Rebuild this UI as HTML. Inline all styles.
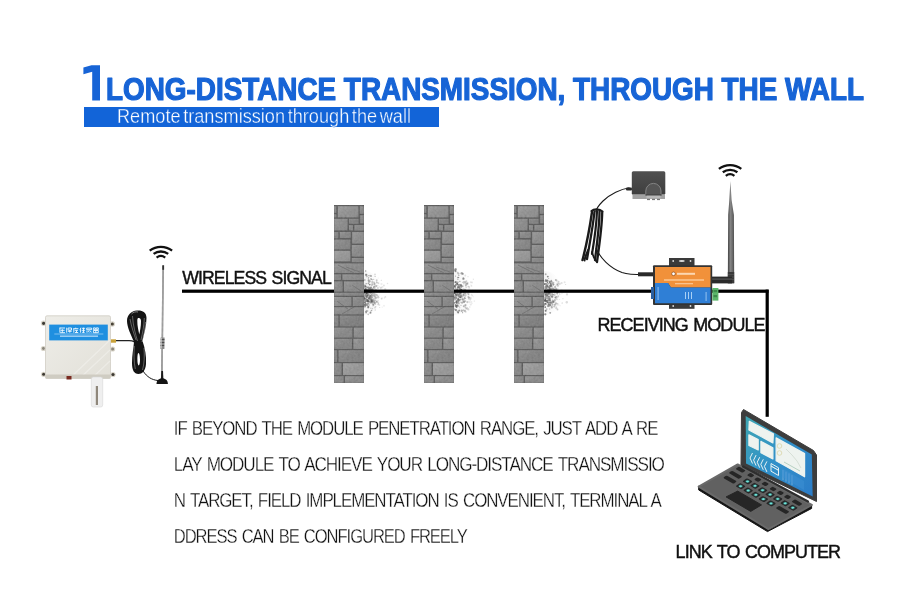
<!DOCTYPE html>
<html><head><meta charset="utf-8">
<style>
html,body{margin:0;padding:0;background:#fff;}
body{width:900px;height:616px;overflow:hidden;position:relative;}
svg{position:absolute;left:0;top:0;display:block;will-change:transform;}
text{font-family:"Liberation Sans",sans-serif;}
</style></head><body>
<svg width="900" height="616" viewBox="0 0 900 616">
<defs>
  <linearGradient id="scrg" x1="0" y1="0" x2="1" y2="1">
    <stop offset="0" stop-color="#3fa7b3"/>
    <stop offset="0.5" stop-color="#3190c9"/>
    <stop offset="1" stop-color="#2b7cc8"/>
  </linearGradient>
  <linearGradient id="boxg" x1="0" y1="0" x2="1" y2="1">
    <stop offset="0" stop-color="#eeede8"/>
    <stop offset="1" stop-color="#e2e0d8"/>
  </linearGradient>
  <linearGradient id="adg" x1="0" y1="0" x2="0" y2="1">
    <stop offset="0" stop-color="#505050"/>
    <stop offset="1" stop-color="#3e3e3e"/>
  </linearGradient>
  <linearGradient id="antg" x1="0" y1="0" x2="1" y2="0">
    <stop offset="0" stop-color="#3e3e3e"/>
    <stop offset="0.4" stop-color="#858585"/>
    <stop offset="0.7" stop-color="#6e6e6e"/>
    <stop offset="1" stop-color="#4a4a4a"/>
  </linearGradient>
  <radialGradient id="dustg" cx="0" cy="0.5" r="1">
    <stop offset="0" stop-color="#999" stop-opacity="0.45"/>
    <stop offset="0.5" stop-color="#aaa" stop-opacity="0.18"/>
    <stop offset="1" stop-color="#ccc" stop-opacity="0"/>
  </radialGradient>
  <filter id="noise" x="0" y="0" width="1" height="1">
    <feTurbulence type="fractalNoise" baseFrequency="0.45" numOctaves="3" seed="5"/>
    <feColorMatrix type="matrix" values="0.33 0.33 0.33 0 0  0.33 0.33 0.33 0 0  0.33 0.33 0.33 0 0  0 0 0 0 1"/>
  </filter>
  <filter id="dblur" x="-20%" y="-20%" width="140%" height="140%">
    <feGaussianBlur stdDeviation="0.45"/>
  </filter>
  <filter id="soft" x="-5%" y="-2%" width="110%" height="104%">
    <feGaussianBlur stdDeviation="0.35"/>
  </filter>
  <linearGradient id="sg" x1="0" y1="0" x2="1" y2="1">
    <stop offset="0" stop-color="#fff" stop-opacity="0.14"/>
    <stop offset="0.6" stop-color="#fff" stop-opacity="0"/>
    <stop offset="1" stop-color="#000" stop-opacity="0.14"/>
  </linearGradient>
  <g id="wall">
<rect x="0" y="0" width="30" height="178" fill="#464646"/>
<rect x="0.2" y="1.2" width="2.2" height="6.6" fill="#7c7c7c"/>
<rect x="0.2" y="1.2" width="2.2" height="6.6" fill="url(#sg)"/>
<rect x="0.2" y="9.2" width="2.2" height="3.2" fill="#777777"/>
<rect x="0.2" y="9.2" width="2.2" height="3.2" fill="url(#sg)"/>
<rect x="15.0" y="20.2" width="4.0" height="5.199999999999999" fill="#7a7a7a"/>
<rect x="15.0" y="20.2" width="4.0" height="5.199999999999999" fill="url(#sg)"/>
<rect x="3.8000000000000003" y="1.2" width="20.6" height="11.2" fill="#858585"/>
<rect x="3.8000000000000003" y="1.2" width="20.6" height="11.2" fill="url(#sg)"/>
<rect x="25.8" y="1.2" width="4.0" height="7.6" fill="#797979"/>
<rect x="25.8" y="1.2" width="4.0" height="7.6" fill="url(#sg)"/>
<rect x="26.2" y="10.2" width="3.6" height="8.2" fill="#767676"/>
<rect x="26.2" y="10.2" width="3.6" height="8.2" fill="url(#sg)"/>
<rect x="15.0" y="13.799999999999999" width="9.6" height="5.0" fill="#737373"/>
<rect x="15.0" y="13.799999999999999" width="9.6" height="5.0" fill="url(#sg)"/>
<rect x="0.2" y="13.799999999999999" width="13.4" height="11.6" fill="#7d7d7d"/>
<rect x="0.2" y="13.799999999999999" width="13.4" height="11.6" fill="url(#sg)"/>
<rect x="20.4" y="20.0" width="9.4" height="5.6" fill="#777777"/>
<rect x="20.4" y="20.0" width="9.4" height="5.6" fill="url(#sg)"/>
<rect x="0.2" y="27.0" width="4.199999999999999" height="6.3999999999999995" fill="#747474"/>
<rect x="0.2" y="27.0" width="4.199999999999999" height="6.3999999999999995" fill="url(#sg)"/>
<rect x="5.8" y="27.0" width="11.0" height="6.0" fill="#797979"/>
<rect x="5.8" y="27.0" width="11.0" height="6.0" fill="url(#sg)"/>
<rect x="18.2" y="27.0" width="11.6" height="11.6" fill="#808080"/>
<rect x="18.2" y="27.0" width="11.6" height="11.6" fill="url(#sg)"/>
<rect x="0.2" y="34.6" width="16.200000000000003" height="9.799999999999999" fill="#777777"/>
<rect x="0.2" y="34.6" width="16.200000000000003" height="9.799999999999999" fill="url(#sg)"/>
<rect x="17.8" y="40.0" width="12.0" height="11.6" fill="#7b7b7b"/>
<rect x="17.8" y="40.0" width="12.0" height="11.6" fill="url(#sg)"/>
<rect x="0.2" y="45.800000000000004" width="16.200000000000003" height="10.6" fill="#8b8b8b"/>
<rect x="0.2" y="45.800000000000004" width="16.200000000000003" height="10.6" fill="url(#sg)"/>
<rect x="17.8" y="53.0" width="12.0" height="4.199999999999999" fill="#767676"/>
<rect x="17.8" y="53.0" width="12.0" height="4.199999999999999" fill="url(#sg)"/>
<rect x="0.2" y="58.400000000000006" width="29.6" height="9.6" fill="#7c7c7c"/>
<rect x="0.2" y="58.400000000000006" width="29.6" height="9.6" fill="url(#sg)"/>
<rect x="0.2" y="69.4" width="6.8" height="5.6" fill="#777777"/>
<rect x="0.2" y="69.4" width="6.8" height="5.6" fill="url(#sg)"/>
<rect x="8.399999999999999" y="69.4" width="21.400000000000002" height="5.6" fill="#7d7d7d"/>
<rect x="8.399999999999999" y="69.4" width="21.400000000000002" height="5.6" fill="url(#sg)"/>
<rect x="0.2" y="76.4" width="8.4" height="10.2" fill="#797979"/>
<rect x="0.2" y="76.4" width="8.4" height="10.2" fill="url(#sg)"/>
<rect x="10.0" y="76.4" width="19.8" height="10.2" fill="#7c7c7c"/>
<rect x="10.0" y="76.4" width="19.8" height="10.2" fill="url(#sg)"/>
<rect x="0.2" y="87.8" width="29.6" height="3.0" fill="#777777"/>
<rect x="0.2" y="87.8" width="29.6" height="3.0" fill="url(#sg)"/>
<rect x="0.2" y="92.0" width="17.200000000000003" height="9.0" fill="#7f7f7f"/>
<rect x="0.2" y="92.0" width="17.200000000000003" height="9.0" fill="url(#sg)"/>
<rect x="18.8" y="92.0" width="11.0" height="9.0" fill="#777777"/>
<rect x="18.8" y="92.0" width="11.0" height="9.0" fill="url(#sg)"/>
<rect x="0.2" y="102.2" width="29.6" height="7.199999999999999" fill="#7b7b7b"/>
<rect x="0.2" y="102.2" width="29.6" height="7.199999999999999" fill="url(#sg)"/>
<rect x="0.2" y="110.60000000000001" width="4.199999999999999" height="10.799999999999999" fill="#767676"/>
<rect x="0.2" y="110.60000000000001" width="4.199999999999999" height="10.799999999999999" fill="url(#sg)"/>
<rect x="5.8" y="110.60000000000001" width="24.0" height="10.799999999999999" fill="#6e6e6e"/>
<rect x="5.8" y="110.60000000000001" width="24.0" height="10.799999999999999" fill="url(#sg)"/>
<rect x="0.2" y="122.60000000000001" width="18.200000000000003" height="10.0" fill="#7a7a7a"/>
<rect x="0.2" y="122.60000000000001" width="18.200000000000003" height="10.0" fill="url(#sg)"/>
<rect x="19.8" y="122.60000000000001" width="10.0" height="10.0" fill="#7c7c7c"/>
<rect x="19.8" y="122.60000000000001" width="10.0" height="10.0" fill="url(#sg)"/>
<rect x="0.2" y="133.79999999999998" width="17.8" height="10.2" fill="#777777"/>
<rect x="0.2" y="133.79999999999998" width="17.8" height="10.2" fill="url(#sg)"/>
<rect x="19.4" y="133.79999999999998" width="10.4" height="10.2" fill="#808080"/>
<rect x="19.4" y="133.79999999999998" width="10.4" height="10.2" fill="url(#sg)"/>
<rect x="0.2" y="145.2" width="3.0" height="11.799999999999999" fill="#767676"/>
<rect x="0.2" y="145.2" width="3.0" height="11.799999999999999" fill="url(#sg)"/>
<rect x="4.6000000000000005" y="145.2" width="25.200000000000003" height="11.799999999999999" fill="#737373"/>
<rect x="4.6000000000000005" y="145.2" width="25.200000000000003" height="11.799999999999999" fill="url(#sg)"/>
<rect x="0.2" y="158.2" width="7.3999999999999995" height="11.799999999999999" fill="#797979"/>
<rect x="0.2" y="158.2" width="7.3999999999999995" height="11.799999999999999" fill="url(#sg)"/>
<rect x="9.0" y="158.2" width="20.8" height="11.799999999999999" fill="#8d8d8d"/>
<rect x="9.0" y="158.2" width="20.8" height="11.799999999999999" fill="url(#sg)"/>
<rect x="0.2" y="171.2" width="9.4" height="6.6" fill="#7a7a7a"/>
<rect x="0.2" y="171.2" width="9.4" height="6.6" fill="url(#sg)"/>
<rect x="11.0" y="171.2" width="18.8" height="6.6" fill="#7c7c7c"/>
<rect x="11.0" y="171.2" width="18.8" height="6.6" fill="url(#sg)"/>
<path d="M4 60 L20 68 M12 62 L26 67 M3 96 L14 104 M20 102 L8 109 M18 80 L27 86" stroke="#555" stroke-width="0.7" fill="none"/>
    <rect x="0" y="0" width="30" height="178" filter="url(#noise)" opacity="0.22"/>
  </g>
  <g id="wifi" fill="none" stroke="#111" stroke-width="2.3">
    <path d="M-11.2 -2.95 A18.6 18.6 0 0 1 11.2 -2.95"/>
    <path d="M-7.3 0.45 A12.1 12.1 0 0 1 7.3 0.45"/>
    <path d="M-4.3 4.1 A6.9 6.9 0 0 1 4.3 4.1"/>
  </g>
</defs>

<!-- Title -->
<path d="M83.4 67.6 L91.5 65.3 L100 65.3 L100 100.5 L92.2 100.5 L92.2 71.8 L83.4 74.2 Z" fill="#1764d6"/>
<text x="106" y="99.9" font-size="30.8" font-weight="bold" fill="#1764d6" stroke="#1764d6" stroke-width="1.2" stroke-linejoin="round" textLength="758" lengthAdjust="spacingAndGlyphs">LONG-DISTANCE TRANSMISSION, THROUGH THE WALL</text>
<rect x="84" y="107" width="355" height="20" fill="#1264d8"/>
<text x="117" y="122.6" font-size="19.6" fill="#fff" word-spacing="-2.6" stroke="#1264d8" stroke-width="0.35" textLength="294" lengthAdjust="spacingAndGlyphs">Remote transmission through the wall</text>

<!-- dust -->
<g filter="url(#dblur)"><ellipse cx="365" cy="293" rx="17" ry="22" fill="url(#dustg)"/>
<circle cx="366.8" cy="298.1" r="0.53" fill="rgb(153,153,153)" fill-opacity="0.71"/>
<circle cx="366.2" cy="289.0" r="0.54" fill="rgb(144,144,144)" fill-opacity="0.73"/>
<circle cx="367.0" cy="292.9" r="0.79" fill="rgb(125,125,125)" fill-opacity="0.70"/>
<circle cx="365.2" cy="305.6" r="1.08" fill="rgb(77,77,77)" fill-opacity="0.77"/>
<circle cx="369.1" cy="298.0" r="0.91" fill="rgb(150,150,150)" fill-opacity="0.62"/>
<circle cx="375.6" cy="298.0" r="1.18" fill="rgb(76,76,76)" fill-opacity="0.37"/>
<circle cx="381.5" cy="298.7" r="0.79" fill="rgb(107,107,107)" fill-opacity="0.20"/>
<circle cx="375.8" cy="289.7" r="1.07" fill="rgb(141,141,141)" fill-opacity="0.36"/>
<circle cx="369.5" cy="305.0" r="0.63" fill="rgb(151,151,151)" fill-opacity="0.61"/>
<circle cx="376.1" cy="302.1" r="0.54" fill="rgb(142,142,142)" fill-opacity="0.35"/>
<circle cx="368.2" cy="307.5" r="1.04" fill="rgb(124,124,124)" fill-opacity="0.66"/>
<circle cx="384.4" cy="297.9" r="0.71" fill="rgb(116,116,116)" fill-opacity="0.20"/>
<circle cx="368.3" cy="278.1" r="0.56" fill="rgb(101,101,101)" fill-opacity="0.65"/>
<circle cx="367.8" cy="304.1" r="1.01" fill="rgb(113,113,113)" fill-opacity="0.67"/>
<circle cx="371.4" cy="300.0" r="0.74" fill="rgb(166,166,166)" fill-opacity="0.53"/>
<circle cx="373.1" cy="288.7" r="0.55" fill="rgb(155,155,155)" fill-opacity="0.47"/>
<circle cx="379.3" cy="286.7" r="0.72" fill="rgb(174,174,174)" fill-opacity="0.23"/>
<circle cx="368.6" cy="280.4" r="1.06" fill="rgb(144,144,144)" fill-opacity="0.64"/>
<circle cx="368.1" cy="294.9" r="0.83" fill="rgb(104,104,104)" fill-opacity="0.66"/>
<circle cx="366.1" cy="290.0" r="0.72" fill="rgb(159,159,159)" fill-opacity="0.74"/>
<circle cx="376.5" cy="285.9" r="0.70" fill="rgb(127,127,127)" fill-opacity="0.34"/>
<circle cx="374.6" cy="302.8" r="1.16" fill="rgb(72,72,72)" fill-opacity="0.41"/>
<circle cx="372.1" cy="303.8" r="0.54" fill="rgb(133,133,133)" fill-opacity="0.51"/>
<circle cx="365.0" cy="287.8" r="0.78" fill="rgb(101,101,101)" fill-opacity="0.78"/>
<circle cx="373.6" cy="287.2" r="0.81" fill="rgb(91,91,91)" fill-opacity="0.45"/>
<circle cx="382.3" cy="286.7" r="0.80" fill="rgb(174,174,174)" fill-opacity="0.20"/>
<circle cx="377.9" cy="288.1" r="0.98" fill="rgb(115,115,115)" fill-opacity="0.28"/>
<circle cx="369.3" cy="297.9" r="0.62" fill="rgb(80,80,80)" fill-opacity="0.62"/>
<circle cx="365.2" cy="300.2" r="1.08" fill="rgb(132,132,132)" fill-opacity="0.77"/>
<circle cx="367.5" cy="300.4" r="0.79" fill="rgb(88,88,88)" fill-opacity="0.68"/>
<circle cx="372.4" cy="302.5" r="0.98" fill="rgb(86,86,86)" fill-opacity="0.50"/>
<circle cx="376.9" cy="291.7" r="1.02" fill="rgb(156,156,156)" fill-opacity="0.32"/>
<circle cx="382.0" cy="298.4" r="1.06" fill="rgb(157,157,157)" fill-opacity="0.20"/>
<circle cx="371.6" cy="299.3" r="0.84" fill="rgb(83,83,83)" fill-opacity="0.53"/>
<circle cx="369.2" cy="296.8" r="0.81" fill="rgb(96,96,96)" fill-opacity="0.62"/>
<circle cx="373.9" cy="301.6" r="0.50" fill="rgb(83,83,83)" fill-opacity="0.44"/>
<circle cx="366.9" cy="296.8" r="0.93" fill="rgb(116,116,116)" fill-opacity="0.71"/>
<circle cx="370.1" cy="295.9" r="0.60" fill="rgb(118,118,118)" fill-opacity="0.59"/>
<circle cx="364.6" cy="302.2" r="0.83" fill="rgb(116,116,116)" fill-opacity="0.80"/>
<circle cx="372.3" cy="300.7" r="0.84" fill="rgb(129,129,129)" fill-opacity="0.50"/>
<circle cx="366.4" cy="298.2" r="0.74" fill="rgb(165,165,165)" fill-opacity="0.73"/>
<circle cx="366.1" cy="311.7" r="0.86" fill="rgb(90,90,90)" fill-opacity="0.74"/>
<circle cx="373.4" cy="304.7" r="1.03" fill="rgb(73,73,73)" fill-opacity="0.46"/>
<circle cx="368.3" cy="306.7" r="0.99" fill="rgb(81,81,81)" fill-opacity="0.65"/>
<circle cx="365.1" cy="302.5" r="0.75" fill="rgb(91,91,91)" fill-opacity="0.78"/>
<circle cx="366.4" cy="305.3" r="0.73" fill="rgb(134,134,134)" fill-opacity="0.73"/>
<circle cx="367.3" cy="311.0" r="1.10" fill="rgb(167,167,167)" fill-opacity="0.69"/>
<circle cx="370.2" cy="275.7" r="1.06" fill="rgb(164,164,164)" fill-opacity="0.58"/>
<circle cx="367.7" cy="304.1" r="0.52" fill="rgb(163,163,163)" fill-opacity="0.68"/>
<circle cx="371.7" cy="294.4" r="0.64" fill="rgb(103,103,103)" fill-opacity="0.52"/>
<circle cx="371.0" cy="287.4" r="1.16" fill="rgb(173,173,173)" fill-opacity="0.55"/>
<circle cx="386.9" cy="291.1" r="0.56" fill="rgb(116,116,116)" fill-opacity="0.20"/>
<circle cx="372.6" cy="299.7" r="0.64" fill="rgb(113,113,113)" fill-opacity="0.49"/>
<circle cx="378.2" cy="277.9" r="0.50" fill="rgb(177,177,177)" fill-opacity="0.27"/>
<circle cx="371.5" cy="288.0" r="0.56" fill="rgb(152,152,152)" fill-opacity="0.53"/>
<circle cx="375.0" cy="274.4" r="1.00" fill="rgb(170,170,170)" fill-opacity="0.40"/>
<circle cx="370.4" cy="312.9" r="1.05" fill="rgb(125,125,125)" fill-opacity="0.57"/>
<circle cx="372.5" cy="308.6" r="0.78" fill="rgb(162,162,162)" fill-opacity="0.49"/>
<circle cx="382.2" cy="307.1" r="0.61" fill="rgb(162,162,162)" fill-opacity="0.20"/>
<circle cx="366.6" cy="292.9" r="1.13" fill="rgb(145,145,145)" fill-opacity="0.72"/>
<circle cx="366.3" cy="287.7" r="0.92" fill="rgb(175,175,175)" fill-opacity="0.73"/>
<circle cx="385.4" cy="296.8" r="0.88" fill="rgb(89,89,89)" fill-opacity="0.20"/>
<circle cx="365.5" cy="294.2" r="0.95" fill="rgb(162,162,162)" fill-opacity="0.76"/>
<circle cx="385.2" cy="289.1" r="1.19" fill="rgb(125,125,125)" fill-opacity="0.20"/>
<circle cx="370.7" cy="312.1" r="0.68" fill="rgb(73,73,73)" fill-opacity="0.56"/>
<circle cx="366.3" cy="300.1" r="0.73" fill="rgb(145,145,145)" fill-opacity="0.73"/>
<circle cx="380.9" cy="287.8" r="1.14" fill="rgb(77,77,77)" fill-opacity="0.20"/>
<circle cx="370.5" cy="301.8" r="1.07" fill="rgb(144,144,144)" fill-opacity="0.57"/>
<circle cx="381.3" cy="291.0" r="0.59" fill="rgb(134,134,134)" fill-opacity="0.20"/>
<circle cx="370.7" cy="302.8" r="1.04" fill="rgb(126,126,126)" fill-opacity="0.56"/>
<circle cx="376.6" cy="282.1" r="0.62" fill="rgb(89,89,89)" fill-opacity="0.34"/>
<circle cx="378.8" cy="295.7" r="0.54" fill="rgb(141,141,141)" fill-opacity="0.25"/>
<circle cx="369.1" cy="281.8" r="1.05" fill="rgb(131,131,131)" fill-opacity="0.62"/>
<circle cx="373.6" cy="300.9" r="0.63" fill="rgb(101,101,101)" fill-opacity="0.45"/>
<circle cx="368.4" cy="294.2" r="0.89" fill="rgb(127,127,127)" fill-opacity="0.65"/>
<circle cx="365.7" cy="271.0" r="0.73" fill="rgb(126,126,126)" fill-opacity="0.75"/>
<circle cx="376.6" cy="290.7" r="0.98" fill="rgb(95,95,95)" fill-opacity="0.33"/>
<circle cx="375.1" cy="296.6" r="0.86" fill="rgb(131,131,131)" fill-opacity="0.39"/>
<circle cx="364.7" cy="305.2" r="1.15" fill="rgb(103,103,103)" fill-opacity="0.79"/>
<circle cx="369.2" cy="288.8" r="0.60" fill="rgb(127,127,127)" fill-opacity="0.62"/>
<circle cx="371.5" cy="300.5" r="0.97" fill="rgb(79,79,79)" fill-opacity="0.53"/>
<circle cx="370.1" cy="296.0" r="1.05" fill="rgb(108,108,108)" fill-opacity="0.58"/>
<circle cx="368.7" cy="289.5" r="0.95" fill="rgb(161,161,161)" fill-opacity="0.64"/>
<circle cx="369.1" cy="298.7" r="1.18" fill="rgb(87,87,87)" fill-opacity="0.62"/>
<circle cx="372.8" cy="299.9" r="1.08" fill="rgb(155,155,155)" fill-opacity="0.48"/>
<circle cx="369.6" cy="302.0" r="0.78" fill="rgb(135,135,135)" fill-opacity="0.61"/>
<circle cx="371.9" cy="297.5" r="1.01" fill="rgb(81,81,81)" fill-opacity="0.51"/>
<circle cx="375.9" cy="294.6" r="0.99" fill="rgb(126,126,126)" fill-opacity="0.36"/>
<circle cx="372.6" cy="301.0" r="0.86" fill="rgb(107,107,107)" fill-opacity="0.49"/>
<circle cx="370.1" cy="297.8" r="1.13" fill="rgb(75,75,75)" fill-opacity="0.58"/>
<circle cx="370.8" cy="308.3" r="0.80" fill="rgb(174,174,174)" fill-opacity="0.56"/>
<circle cx="378.6" cy="283.2" r="0.78" fill="rgb(103,103,103)" fill-opacity="0.26"/>
<circle cx="375.0" cy="290.3" r="0.99" fill="rgb(133,133,133)" fill-opacity="0.39"/>
<circle cx="367.1" cy="294.8" r="0.63" fill="rgb(158,158,158)" fill-opacity="0.70"/>
<circle cx="370.1" cy="288.2" r="0.94" fill="rgb(72,72,72)" fill-opacity="0.58"/>
<circle cx="365.7" cy="289.0" r="0.66" fill="rgb(179,179,179)" fill-opacity="0.75"/>
<circle cx="364.9" cy="298.1" r="0.74" fill="rgb(71,71,71)" fill-opacity="0.78"/>
<circle cx="383.9" cy="285.5" r="0.94" fill="rgb(104,104,104)" fill-opacity="0.20"/>
<circle cx="378.1" cy="297.2" r="1.18" fill="rgb(84,84,84)" fill-opacity="0.28"/>
<circle cx="364.9" cy="299.3" r="0.94" fill="rgb(109,109,109)" fill-opacity="0.78"/>
<circle cx="370.5" cy="291.7" r="0.85" fill="rgb(127,127,127)" fill-opacity="0.57"/>
<circle cx="368.1" cy="301.3" r="1.20" fill="rgb(72,72,72)" fill-opacity="0.66"/>
<circle cx="366.2" cy="293.4" r="0.89" fill="rgb(134,134,134)" fill-opacity="0.74"/>
<circle cx="368.3" cy="303.5" r="0.57" fill="rgb(127,127,127)" fill-opacity="0.65"/>
<circle cx="368.5" cy="283.3" r="0.88" fill="rgb(133,133,133)" fill-opacity="0.65"/>
<circle cx="366.7" cy="299.5" r="0.74" fill="rgb(99,99,99)" fill-opacity="0.71"/>
<circle cx="371.5" cy="279.4" r="0.60" fill="rgb(151,151,151)" fill-opacity="0.53"/>
<circle cx="365.3" cy="291.6" r="1.02" fill="rgb(150,150,150)" fill-opacity="0.77"/>
<circle cx="364.7" cy="299.0" r="0.97" fill="rgb(80,80,80)" fill-opacity="0.79"/>
<circle cx="372.3" cy="301.1" r="0.92" fill="rgb(106,106,106)" fill-opacity="0.50"/>
<circle cx="365.5" cy="290.2" r="0.61" fill="rgb(93,93,93)" fill-opacity="0.76"/>
<circle cx="371.1" cy="295.6" r="1.18" fill="rgb(112,112,112)" fill-opacity="0.54"/>
<circle cx="370.9" cy="290.8" r="0.65" fill="rgb(109,109,109)" fill-opacity="0.55"/>
<circle cx="367.8" cy="301.2" r="0.83" fill="rgb(80,80,80)" fill-opacity="0.67"/>
<circle cx="370.5" cy="292.9" r="1.04" fill="rgb(134,134,134)" fill-opacity="0.57"/>
<circle cx="378.5" cy="303.0" r="0.78" fill="rgb(88,88,88)" fill-opacity="0.26"/>
<circle cx="366.4" cy="293.6" r="0.94" fill="rgb(108,108,108)" fill-opacity="0.73"/>
<circle cx="384.0" cy="305.7" r="1.03" fill="rgb(179,179,179)" fill-opacity="0.20"/>
<circle cx="372.3" cy="279.7" r="0.77" fill="rgb(146,146,146)" fill-opacity="0.50"/>
<circle cx="373.0" cy="306.0" r="0.60" fill="rgb(152,152,152)" fill-opacity="0.47"/>
<circle cx="371.0" cy="278.9" r="0.94" fill="rgb(135,135,135)" fill-opacity="0.55"/>
<circle cx="366.2" cy="274.8" r="1.14" fill="rgb(87,87,87)" fill-opacity="0.74"/>
<circle cx="364.7" cy="280.0" r="1.06" fill="rgb(174,174,174)" fill-opacity="0.79"/>
<circle cx="370.0" cy="281.3" r="0.98" fill="rgb(161,161,161)" fill-opacity="0.59"/>
<circle cx="366.8" cy="286.2" r="0.53" fill="rgb(73,73,73)" fill-opacity="0.71"/>
<circle cx="371.5" cy="300.7" r="0.94" fill="rgb(76,76,76)" fill-opacity="0.53"/>
<circle cx="374.0" cy="282.2" r="0.68" fill="rgb(132,132,132)" fill-opacity="0.43"/>
<circle cx="367.8" cy="294.0" r="1.13" fill="rgb(134,134,134)" fill-opacity="0.67"/>
<circle cx="373.7" cy="299.7" r="1.02" fill="rgb(165,165,165)" fill-opacity="0.45"/>
<circle cx="364.5" cy="296.9" r="0.66" fill="rgb(103,103,103)" fill-opacity="0.80"/>
<circle cx="364.8" cy="285.8" r="1.18" fill="rgb(153,153,153)" fill-opacity="0.79"/>
<circle cx="373.3" cy="293.4" r="1.14" fill="rgb(131,131,131)" fill-opacity="0.46"/>
<circle cx="365.1" cy="296.0" r="0.95" fill="rgb(150,150,150)" fill-opacity="0.78"/>
<circle cx="369.0" cy="295.6" r="0.96" fill="rgb(102,102,102)" fill-opacity="0.63"/>
<circle cx="368.9" cy="280.0" r="0.51" fill="rgb(87,87,87)" fill-opacity="0.63"/>
<circle cx="371.1" cy="295.9" r="0.57" fill="rgb(156,156,156)" fill-opacity="0.55"/>
<circle cx="366.6" cy="304.4" r="0.86" fill="rgb(160,160,160)" fill-opacity="0.72"/>
<circle cx="374.3" cy="295.5" r="1.20" fill="rgb(85,85,85)" fill-opacity="0.42"/>
<circle cx="371.9" cy="290.4" r="1.16" fill="rgb(80,80,80)" fill-opacity="0.51"/>
<circle cx="374.4" cy="294.2" r="0.85" fill="rgb(174,174,174)" fill-opacity="0.42"/>
<circle cx="379.7" cy="307.5" r="0.55" fill="rgb(96,96,96)" fill-opacity="0.22"/>
<circle cx="377.1" cy="301.9" r="1.17" fill="rgb(103,103,103)" fill-opacity="0.32"/>
<circle cx="375.7" cy="306.7" r="0.70" fill="rgb(135,135,135)" fill-opacity="0.37"/>
<circle cx="371.0" cy="299.2" r="1.13" fill="rgb(133,133,133)" fill-opacity="0.55"/>
<circle cx="366.5" cy="293.2" r="1.16" fill="rgb(70,70,70)" fill-opacity="0.72"/>
<circle cx="368.3" cy="283.7" r="0.60" fill="rgb(163,163,163)" fill-opacity="0.65"/>
<circle cx="368.9" cy="300.2" r="0.73" fill="rgb(177,177,177)" fill-opacity="0.63"/>
<circle cx="368.2" cy="301.1" r="0.58" fill="rgb(120,120,120)" fill-opacity="0.66"/>
<circle cx="377.2" cy="286.0" r="0.70" fill="rgb(164,164,164)" fill-opacity="0.31"/>
<circle cx="370.7" cy="300.2" r="0.55" fill="rgb(145,145,145)" fill-opacity="0.56"/>
<circle cx="378.0" cy="285.4" r="0.53" fill="rgb(179,179,179)" fill-opacity="0.28"/>
<circle cx="378.2" cy="304.3" r="0.94" fill="rgb(106,106,106)" fill-opacity="0.27"/>
<circle cx="371.7" cy="296.4" r="0.76" fill="rgb(168,168,168)" fill-opacity="0.52"/>
<circle cx="382.5" cy="287.4" r="1.03" fill="rgb(173,173,173)" fill-opacity="0.20"/>
<circle cx="379.4" cy="305.0" r="0.88" fill="rgb(140,140,140)" fill-opacity="0.23"/>
<circle cx="365.0" cy="289.9" r="0.79" fill="rgb(163,163,163)" fill-opacity="0.78"/>
<circle cx="368.2" cy="289.4" r="0.84" fill="rgb(106,106,106)" fill-opacity="0.66"/>
<circle cx="374.2" cy="286.4" r="0.83" fill="rgb(91,91,91)" fill-opacity="0.43"/>
<circle cx="368.7" cy="300.0" r="1.02" fill="rgb(164,164,164)" fill-opacity="0.64"/>
<circle cx="369.8" cy="284.6" r="0.71" fill="rgb(100,100,100)" fill-opacity="0.60"/>
<circle cx="372.9" cy="289.5" r="0.95" fill="rgb(91,91,91)" fill-opacity="0.48"/>
<circle cx="373.9" cy="298.4" r="0.85" fill="rgb(173,173,173)" fill-opacity="0.44"/>
<circle cx="368.2" cy="314.4" r="0.81" fill="rgb(167,167,167)" fill-opacity="0.66"/>
<circle cx="368.3" cy="298.0" r="0.62" fill="rgb(81,81,81)" fill-opacity="0.66"/>
<circle cx="371.9" cy="290.0" r="0.68" fill="rgb(117,117,117)" fill-opacity="0.51"/>
<circle cx="381.5" cy="284.1" r="1.11" fill="rgb(165,165,165)" fill-opacity="0.20"/>
<circle cx="375.5" cy="304.1" r="0.76" fill="rgb(96,96,96)" fill-opacity="0.38"/>
<circle cx="366.2" cy="296.0" r="0.90" fill="rgb(105,105,105)" fill-opacity="0.73"/>
<circle cx="373.3" cy="304.7" r="0.94" fill="rgb(137,137,137)" fill-opacity="0.46"/>
<circle cx="368.6" cy="287.7" r="1.13" fill="rgb(104,104,104)" fill-opacity="0.64"/>
<circle cx="374.2" cy="302.6" r="1.17" fill="rgb(125,125,125)" fill-opacity="0.43"/>
<circle cx="375.1" cy="276.5" r="0.59" fill="rgb(72,72,72)" fill-opacity="0.39"/>
<circle cx="378.1" cy="300.7" r="0.83" fill="rgb(172,172,172)" fill-opacity="0.28"/>
<circle cx="364.6" cy="292.9" r="1.15" fill="rgb(120,120,120)" fill-opacity="0.79"/>
<circle cx="374.4" cy="287.7" r="1.18" fill="rgb(129,129,129)" fill-opacity="0.42"/>
<circle cx="364.5" cy="297.8" r="0.61" fill="rgb(89,89,89)" fill-opacity="0.80"/>
<circle cx="368.8" cy="292.2" r="1.01" fill="rgb(175,175,175)" fill-opacity="0.64"/>
<circle cx="373.7" cy="279.4" r="0.56" fill="rgb(128,128,128)" fill-opacity="0.45"/>
<circle cx="364.6" cy="292.5" r="0.66" fill="rgb(86,86,86)" fill-opacity="0.80"/>
<circle cx="375.9" cy="286.1" r="1.17" fill="rgb(108,108,108)" fill-opacity="0.36"/>
<circle cx="372.2" cy="284.3" r="0.99" fill="rgb(125,125,125)" fill-opacity="0.50"/>
<circle cx="367.1" cy="295.5" r="1.16" fill="rgb(137,137,137)" fill-opacity="0.70"/>
<circle cx="367.0" cy="300.3" r="0.92" fill="rgb(171,171,171)" fill-opacity="0.70"/>
<circle cx="372.1" cy="293.6" r="0.70" fill="rgb(128,128,128)" fill-opacity="0.51"/>
<circle cx="371.5" cy="310.5" r="0.83" fill="rgb(101,101,101)" fill-opacity="0.53"/>
<circle cx="365.1" cy="300.5" r="0.99" fill="rgb(122,122,122)" fill-opacity="0.78"/>
<circle cx="365.2" cy="295.0" r="1.12" fill="rgb(133,133,133)" fill-opacity="0.77"/>
<circle cx="366.7" cy="289.7" r="0.97" fill="rgb(99,99,99)" fill-opacity="0.71"/>
<circle cx="370.3" cy="289.8" r="0.99" fill="rgb(74,74,74)" fill-opacity="0.58"/>
<circle cx="366.2" cy="283.7" r="0.64" fill="rgb(120,120,120)" fill-opacity="0.74"/>
<circle cx="368.8" cy="277.3" r="0.55" fill="rgb(134,134,134)" fill-opacity="0.63"/>
<circle cx="370.5" cy="293.2" r="1.07" fill="rgb(168,168,168)" fill-opacity="0.57"/>
<circle cx="365.3" cy="300.0" r="1.12" fill="rgb(167,167,167)" fill-opacity="0.77"/>
<circle cx="374.2" cy="301.8" r="0.63" fill="rgb(148,148,148)" fill-opacity="0.43"/>
<circle cx="366.1" cy="303.2" r="0.54" fill="rgb(155,155,155)" fill-opacity="0.74"/>
<circle cx="381.3" cy="280.3" r="0.65" fill="rgb(76,76,76)" fill-opacity="0.20"/>
<circle cx="369.4" cy="292.1" r="1.00" fill="rgb(76,76,76)" fill-opacity="0.61"/>
<circle cx="368.5" cy="303.0" r="1.12" fill="rgb(161,161,161)" fill-opacity="0.65"/>
<circle cx="371.8" cy="289.3" r="0.96" fill="rgb(93,93,93)" fill-opacity="0.52"/>
<circle cx="374.5" cy="291.3" r="0.97" fill="rgb(109,109,109)" fill-opacity="0.42"/>
<circle cx="370.8" cy="299.7" r="0.81" fill="rgb(112,112,112)" fill-opacity="0.56"/>
<circle cx="367.3" cy="295.6" r="0.75" fill="rgb(80,80,80)" fill-opacity="0.69"/>
<circle cx="368.9" cy="291.6" r="0.65" fill="rgb(167,167,167)" fill-opacity="0.63"/>
<circle cx="374.9" cy="307.6" r="1.06" fill="rgb(175,175,175)" fill-opacity="0.40"/>
<circle cx="376.5" cy="301.2" r="0.76" fill="rgb(95,95,95)" fill-opacity="0.34"/>
<circle cx="369.7" cy="289.8" r="1.02" fill="rgb(116,116,116)" fill-opacity="0.60"/>
<circle cx="377.1" cy="295.3" r="1.07" fill="rgb(101,101,101)" fill-opacity="0.32"/>
<circle cx="364.8" cy="290.1" r="0.82" fill="rgb(74,74,74)" fill-opacity="0.79"/>
<circle cx="365.6" cy="289.6" r="1.02" fill="rgb(94,94,94)" fill-opacity="0.76"/>
<circle cx="371.1" cy="287.6" r="0.73" fill="rgb(104,104,104)" fill-opacity="0.55"/>
<circle cx="367.1" cy="292.1" r="1.00" fill="rgb(165,165,165)" fill-opacity="0.70"/>
<circle cx="367.4" cy="300.3" r="1.01" fill="rgb(70,70,70)" fill-opacity="0.69"/>
<circle cx="377.9" cy="282.8" r="0.52" fill="rgb(78,78,78)" fill-opacity="0.28"/>
<circle cx="365.5" cy="304.3" r="1.17" fill="rgb(129,129,129)" fill-opacity="0.76"/>
<circle cx="369.7" cy="298.0" r="1.07" fill="rgb(125,125,125)" fill-opacity="0.60"/>
<circle cx="371.6" cy="301.7" r="1.06" fill="rgb(71,71,71)" fill-opacity="0.53"/>
<circle cx="365.7" cy="274.4" r="0.61" fill="rgb(168,168,168)" fill-opacity="0.75"/>
<circle cx="366.1" cy="312.8" r="0.75" fill="rgb(128,128,128)" fill-opacity="0.74"/>
<circle cx="365.2" cy="289.0" r="0.77" fill="rgb(95,95,95)" fill-opacity="0.77"/>
<circle cx="369.4" cy="301.6" r="0.52" fill="rgb(153,153,153)" fill-opacity="0.61"/>
<circle cx="372.1" cy="290.1" r="1.12" fill="rgb(124,124,124)" fill-opacity="0.51"/>
<circle cx="371.5" cy="292.4" r="0.65" fill="rgb(80,80,80)" fill-opacity="0.53"/>
<circle cx="370.0" cy="291.9" r="0.79" fill="rgb(87,87,87)" fill-opacity="0.59"/>
<circle cx="374.3" cy="282.7" r="0.88" fill="rgb(165,165,165)" fill-opacity="0.42"/>
<circle cx="366.8" cy="276.3" r="1.09" fill="rgb(169,169,169)" fill-opacity="0.71"/>
<circle cx="367.7" cy="305.4" r="0.68" fill="rgb(117,117,117)" fill-opacity="0.68"/>
<circle cx="365.1" cy="303.7" r="0.67" fill="rgb(93,93,93)" fill-opacity="0.78"/>
<circle cx="375.2" cy="310.0" r="0.63" fill="rgb(144,144,144)" fill-opacity="0.39"/>
<circle cx="370.8" cy="296.0" r="0.86" fill="rgb(101,101,101)" fill-opacity="0.56"/>
<circle cx="366.4" cy="311.1" r="0.82" fill="rgb(153,153,153)" fill-opacity="0.73"/>
<circle cx="365.3" cy="293.2" r="0.66" fill="rgb(174,174,174)" fill-opacity="0.77"/>
<circle cx="372.8" cy="296.1" r="0.66" fill="rgb(107,107,107)" fill-opacity="0.48"/>
<circle cx="376.1" cy="297.2" r="0.91" fill="rgb(175,175,175)" fill-opacity="0.35"/>
<circle cx="372.4" cy="288.9" r="0.62" fill="rgb(180,180,180)" fill-opacity="0.50"/>
<circle cx="376.9" cy="282.6" r="1.16" fill="rgb(155,155,155)" fill-opacity="0.32"/>
<circle cx="374.0" cy="301.3" r="0.74" fill="rgb(149,149,149)" fill-opacity="0.43"/>
<circle cx="372.5" cy="295.1" r="0.64" fill="rgb(75,75,75)" fill-opacity="0.49"/>
<circle cx="364.9" cy="306.5" r="1.14" fill="rgb(153,153,153)" fill-opacity="0.79"/>
<circle cx="371.1" cy="276.0" r="0.97" fill="rgb(122,122,122)" fill-opacity="0.55"/>
<circle cx="367.6" cy="300.9" r="0.52" fill="rgb(96,96,96)" fill-opacity="0.68"/>
<circle cx="374.8" cy="293.3" r="0.57" fill="rgb(122,122,122)" fill-opacity="0.40"/>
<circle cx="373.5" cy="300.7" r="0.87" fill="rgb(151,151,151)" fill-opacity="0.45"/>
<circle cx="369.7" cy="284.7" r="0.79" fill="rgb(104,104,104)" fill-opacity="0.60"/>
<circle cx="366.1" cy="301.4" r="0.72" fill="rgb(76,76,76)" fill-opacity="0.74"/>
<circle cx="372.2" cy="289.2" r="0.51" fill="rgb(123,123,123)" fill-opacity="0.50"/>
<circle cx="366.2" cy="275.1" r="0.64" fill="rgb(152,152,152)" fill-opacity="0.73"/>
<circle cx="365.3" cy="286.3" r="0.80" fill="rgb(70,70,70)" fill-opacity="0.77"/>
<circle cx="366.9" cy="297.1" r="0.78" fill="rgb(81,81,81)" fill-opacity="0.71"/>
<circle cx="371.9" cy="285.5" r="0.59" fill="rgb(90,90,90)" fill-opacity="0.51"/>
<circle cx="369.2" cy="294.8" r="1.14" fill="rgb(173,173,173)" fill-opacity="0.62"/>
<circle cx="375.1" cy="300.4" r="1.02" fill="rgb(117,117,117)" fill-opacity="0.39"/>
<circle cx="368.4" cy="301.2" r="0.86" fill="rgb(90,90,90)" fill-opacity="0.65"/>
<circle cx="368.4" cy="290.8" r="1.03" fill="rgb(132,132,132)" fill-opacity="0.65"/>
<circle cx="368.8" cy="275.6" r="0.59" fill="rgb(108,108,108)" fill-opacity="0.64"/>
<circle cx="387.5" cy="283.5" r="0.72" fill="rgb(131,131,131)" fill-opacity="0.20"/>
<circle cx="374.5" cy="284.1" r="1.13" fill="rgb(81,81,81)" fill-opacity="0.42"/>
<circle cx="376.7" cy="280.2" r="0.95" fill="rgb(90,90,90)" fill-opacity="0.33"/>
<circle cx="372.3" cy="282.1" r="1.09" fill="rgb(148,148,148)" fill-opacity="0.50"/>
<circle cx="367.2" cy="287.4" r="0.53" fill="rgb(97,97,97)" fill-opacity="0.69"/>
<circle cx="369.4" cy="290.8" r="0.59" fill="rgb(115,115,115)" fill-opacity="0.61"/>
</g>
<g filter="url(#dblur)"><ellipse cx="455" cy="293" rx="17" ry="22" fill="url(#dustg)"/>
<circle cx="454.8" cy="309.1" r="0.53" fill="rgb(94,94,94)" fill-opacity="0.79"/>
<circle cx="468.5" cy="286.6" r="0.97" fill="rgb(74,74,74)" fill-opacity="0.26"/>
<circle cx="458.5" cy="301.9" r="0.89" fill="rgb(128,128,128)" fill-opacity="0.65"/>
<circle cx="459.9" cy="286.9" r="0.72" fill="rgb(123,123,123)" fill-opacity="0.59"/>
<circle cx="454.5" cy="302.9" r="0.81" fill="rgb(117,117,117)" fill-opacity="0.80"/>
<circle cx="456.3" cy="293.8" r="1.19" fill="rgb(149,149,149)" fill-opacity="0.73"/>
<circle cx="464.1" cy="295.4" r="1.05" fill="rgb(149,149,149)" fill-opacity="0.43"/>
<circle cx="460.0" cy="294.6" r="0.78" fill="rgb(130,130,130)" fill-opacity="0.59"/>
<circle cx="462.2" cy="296.9" r="0.56" fill="rgb(116,116,116)" fill-opacity="0.50"/>
<circle cx="464.5" cy="297.3" r="0.53" fill="rgb(75,75,75)" fill-opacity="0.41"/>
<circle cx="468.4" cy="309.5" r="1.04" fill="rgb(110,110,110)" fill-opacity="0.27"/>
<circle cx="457.5" cy="292.8" r="1.13" fill="rgb(134,134,134)" fill-opacity="0.68"/>
<circle cx="463.5" cy="278.7" r="1.10" fill="rgb(73,73,73)" fill-opacity="0.45"/>
<circle cx="469.1" cy="292.6" r="0.58" fill="rgb(174,174,174)" fill-opacity="0.24"/>
<circle cx="467.2" cy="308.3" r="1.17" fill="rgb(106,106,106)" fill-opacity="0.31"/>
<circle cx="459.2" cy="290.0" r="1.00" fill="rgb(170,170,170)" fill-opacity="0.62"/>
<circle cx="457.6" cy="311.6" r="1.03" fill="rgb(148,148,148)" fill-opacity="0.68"/>
<circle cx="464.9" cy="310.9" r="1.13" fill="rgb(105,105,105)" fill-opacity="0.40"/>
<circle cx="461.1" cy="295.1" r="0.65" fill="rgb(131,131,131)" fill-opacity="0.54"/>
<circle cx="455.4" cy="304.8" r="0.76" fill="rgb(110,110,110)" fill-opacity="0.77"/>
<circle cx="457.4" cy="302.6" r="1.16" fill="rgb(151,151,151)" fill-opacity="0.69"/>
<circle cx="462.7" cy="273.8" r="1.05" fill="rgb(91,91,91)" fill-opacity="0.49"/>
<circle cx="455.9" cy="310.0" r="0.95" fill="rgb(76,76,76)" fill-opacity="0.75"/>
<circle cx="466.1" cy="308.7" r="0.87" fill="rgb(141,141,141)" fill-opacity="0.35"/>
<circle cx="461.7" cy="273.3" r="1.20" fill="rgb(102,102,102)" fill-opacity="0.52"/>
<circle cx="460.7" cy="285.7" r="0.76" fill="rgb(172,172,172)" fill-opacity="0.56"/>
<circle cx="460.6" cy="299.8" r="0.75" fill="rgb(88,88,88)" fill-opacity="0.56"/>
<circle cx="455.4" cy="282.2" r="0.93" fill="rgb(92,92,92)" fill-opacity="0.77"/>
<circle cx="461.8" cy="290.8" r="0.68" fill="rgb(136,136,136)" fill-opacity="0.52"/>
<circle cx="465.9" cy="285.4" r="1.01" fill="rgb(110,110,110)" fill-opacity="0.36"/>
<circle cx="454.6" cy="285.9" r="0.93" fill="rgb(107,107,107)" fill-opacity="0.80"/>
<circle cx="464.3" cy="298.0" r="0.59" fill="rgb(76,76,76)" fill-opacity="0.42"/>
<circle cx="456.4" cy="307.4" r="0.54" fill="rgb(72,72,72)" fill-opacity="0.73"/>
<circle cx="461.5" cy="289.5" r="0.75" fill="rgb(136,136,136)" fill-opacity="0.53"/>
<circle cx="456.4" cy="306.1" r="0.59" fill="rgb(145,145,145)" fill-opacity="0.73"/>
<circle cx="465.8" cy="307.0" r="0.59" fill="rgb(90,90,90)" fill-opacity="0.37"/>
<circle cx="460.7" cy="290.1" r="0.82" fill="rgb(89,89,89)" fill-opacity="0.56"/>
<circle cx="459.1" cy="295.2" r="1.05" fill="rgb(155,155,155)" fill-opacity="0.62"/>
<circle cx="460.3" cy="297.5" r="0.54" fill="rgb(71,71,71)" fill-opacity="0.58"/>
<circle cx="462.7" cy="273.9" r="0.95" fill="rgb(146,146,146)" fill-opacity="0.48"/>
<circle cx="474.4" cy="301.1" r="0.84" fill="rgb(163,163,163)" fill-opacity="0.20"/>
<circle cx="454.6" cy="293.2" r="0.87" fill="rgb(77,77,77)" fill-opacity="0.80"/>
<circle cx="460.0" cy="297.1" r="1.14" fill="rgb(77,77,77)" fill-opacity="0.59"/>
<circle cx="464.3" cy="301.4" r="1.16" fill="rgb(154,154,154)" fill-opacity="0.42"/>
<circle cx="458.3" cy="298.2" r="0.95" fill="rgb(147,147,147)" fill-opacity="0.66"/>
<circle cx="460.1" cy="284.7" r="0.62" fill="rgb(148,148,148)" fill-opacity="0.58"/>
<circle cx="457.3" cy="300.9" r="1.20" fill="rgb(76,76,76)" fill-opacity="0.69"/>
<circle cx="456.1" cy="281.7" r="0.50" fill="rgb(138,138,138)" fill-opacity="0.74"/>
<circle cx="462.8" cy="279.3" r="0.56" fill="rgb(129,129,129)" fill-opacity="0.48"/>
<circle cx="457.6" cy="287.9" r="0.68" fill="rgb(83,83,83)" fill-opacity="0.68"/>
<circle cx="457.4" cy="289.0" r="1.15" fill="rgb(165,165,165)" fill-opacity="0.69"/>
<circle cx="461.1" cy="290.3" r="0.69" fill="rgb(76,76,76)" fill-opacity="0.55"/>
<circle cx="463.6" cy="289.5" r="1.14" fill="rgb(170,170,170)" fill-opacity="0.45"/>
<circle cx="461.9" cy="291.5" r="0.56" fill="rgb(97,97,97)" fill-opacity="0.51"/>
<circle cx="460.0" cy="292.7" r="1.09" fill="rgb(100,100,100)" fill-opacity="0.59"/>
<circle cx="456.0" cy="298.6" r="0.63" fill="rgb(111,111,111)" fill-opacity="0.74"/>
<circle cx="463.8" cy="301.7" r="1.14" fill="rgb(118,118,118)" fill-opacity="0.44"/>
<circle cx="463.9" cy="281.8" r="1.09" fill="rgb(155,155,155)" fill-opacity="0.44"/>
<circle cx="464.4" cy="290.4" r="0.99" fill="rgb(137,137,137)" fill-opacity="0.42"/>
<circle cx="460.5" cy="284.6" r="0.66" fill="rgb(162,162,162)" fill-opacity="0.57"/>
<circle cx="466.4" cy="281.3" r="0.94" fill="rgb(120,120,120)" fill-opacity="0.34"/>
<circle cx="472.0" cy="303.3" r="0.52" fill="rgb(88,88,88)" fill-opacity="0.20"/>
<circle cx="464.1" cy="302.0" r="0.74" fill="rgb(90,90,90)" fill-opacity="0.43"/>
<circle cx="455.9" cy="294.9" r="0.60" fill="rgb(75,75,75)" fill-opacity="0.75"/>
<circle cx="456.1" cy="290.7" r="1.02" fill="rgb(78,78,78)" fill-opacity="0.74"/>
<circle cx="465.5" cy="298.4" r="0.64" fill="rgb(116,116,116)" fill-opacity="0.38"/>
<circle cx="465.2" cy="289.5" r="0.55" fill="rgb(155,155,155)" fill-opacity="0.39"/>
<circle cx="468.0" cy="276.6" r="0.57" fill="rgb(119,119,119)" fill-opacity="0.28"/>
<circle cx="455.7" cy="297.7" r="1.16" fill="rgb(74,74,74)" fill-opacity="0.75"/>
<circle cx="467.3" cy="284.1" r="1.08" fill="rgb(81,81,81)" fill-opacity="0.31"/>
<circle cx="459.5" cy="286.9" r="0.59" fill="rgb(82,82,82)" fill-opacity="0.61"/>
<circle cx="457.9" cy="279.1" r="0.72" fill="rgb(107,107,107)" fill-opacity="0.67"/>
<circle cx="456.1" cy="293.9" r="1.15" fill="rgb(102,102,102)" fill-opacity="0.74"/>
<circle cx="469.0" cy="298.1" r="1.04" fill="rgb(111,111,111)" fill-opacity="0.24"/>
<circle cx="462.7" cy="286.2" r="0.93" fill="rgb(106,106,106)" fill-opacity="0.48"/>
<circle cx="463.6" cy="295.0" r="0.86" fill="rgb(125,125,125)" fill-opacity="0.45"/>
<circle cx="462.8" cy="299.5" r="0.88" fill="rgb(76,76,76)" fill-opacity="0.48"/>
<circle cx="458.2" cy="312.5" r="0.90" fill="rgb(81,81,81)" fill-opacity="0.66"/>
<circle cx="456.7" cy="303.4" r="0.64" fill="rgb(137,137,137)" fill-opacity="0.71"/>
<circle cx="465.0" cy="293.3" r="0.99" fill="rgb(132,132,132)" fill-opacity="0.40"/>
<circle cx="473.4" cy="279.2" r="0.68" fill="rgb(135,135,135)" fill-opacity="0.20"/>
<circle cx="461.4" cy="290.2" r="1.16" fill="rgb(97,97,97)" fill-opacity="0.53"/>
<circle cx="455.1" cy="299.0" r="1.04" fill="rgb(151,151,151)" fill-opacity="0.78"/>
<circle cx="458.4" cy="291.2" r="0.75" fill="rgb(111,111,111)" fill-opacity="0.65"/>
<circle cx="461.8" cy="298.8" r="0.56" fill="rgb(165,165,165)" fill-opacity="0.52"/>
<circle cx="456.1" cy="291.5" r="0.71" fill="rgb(96,96,96)" fill-opacity="0.74"/>
<circle cx="464.7" cy="298.5" r="0.77" fill="rgb(91,91,91)" fill-opacity="0.41"/>
<circle cx="459.4" cy="288.1" r="0.59" fill="rgb(128,128,128)" fill-opacity="0.61"/>
<circle cx="465.9" cy="284.5" r="0.95" fill="rgb(147,147,147)" fill-opacity="0.36"/>
<circle cx="459.1" cy="300.2" r="1.11" fill="rgb(89,89,89)" fill-opacity="0.62"/>
<circle cx="465.4" cy="296.9" r="0.62" fill="rgb(111,111,111)" fill-opacity="0.38"/>
<circle cx="468.9" cy="299.5" r="0.66" fill="rgb(144,144,144)" fill-opacity="0.25"/>
<circle cx="461.0" cy="305.4" r="0.67" fill="rgb(159,159,159)" fill-opacity="0.55"/>
<circle cx="457.2" cy="300.9" r="1.08" fill="rgb(160,160,160)" fill-opacity="0.69"/>
<circle cx="465.2" cy="282.2" r="1.01" fill="rgb(101,101,101)" fill-opacity="0.39"/>
<circle cx="461.2" cy="287.4" r="0.73" fill="rgb(100,100,100)" fill-opacity="0.54"/>
<circle cx="455.1" cy="288.4" r="0.57" fill="rgb(154,154,154)" fill-opacity="0.78"/>
<circle cx="458.6" cy="277.4" r="0.69" fill="rgb(125,125,125)" fill-opacity="0.64"/>
<circle cx="469.8" cy="307.0" r="0.64" fill="rgb(105,105,105)" fill-opacity="0.21"/>
<circle cx="456.3" cy="294.7" r="1.10" fill="rgb(121,121,121)" fill-opacity="0.73"/>
<circle cx="460.4" cy="295.8" r="0.71" fill="rgb(150,150,150)" fill-opacity="0.57"/>
<circle cx="461.4" cy="294.1" r="0.78" fill="rgb(164,164,164)" fill-opacity="0.54"/>
<circle cx="455.6" cy="271.2" r="0.99" fill="rgb(125,125,125)" fill-opacity="0.76"/>
<circle cx="465.6" cy="285.5" r="0.66" fill="rgb(178,178,178)" fill-opacity="0.37"/>
<circle cx="457.7" cy="272.7" r="0.95" fill="rgb(169,169,169)" fill-opacity="0.68"/>
<circle cx="460.1" cy="289.4" r="0.95" fill="rgb(93,93,93)" fill-opacity="0.58"/>
<circle cx="462.0" cy="295.5" r="0.99" fill="rgb(150,150,150)" fill-opacity="0.51"/>
<circle cx="459.8" cy="288.4" r="1.00" fill="rgb(121,121,121)" fill-opacity="0.60"/>
<circle cx="459.2" cy="287.5" r="0.84" fill="rgb(124,124,124)" fill-opacity="0.62"/>
<circle cx="472.2" cy="295.4" r="0.97" fill="rgb(136,136,136)" fill-opacity="0.20"/>
<circle cx="459.7" cy="290.3" r="0.73" fill="rgb(153,153,153)" fill-opacity="0.60"/>
<circle cx="471.5" cy="294.3" r="0.53" fill="rgb(83,83,83)" fill-opacity="0.20"/>
<circle cx="459.6" cy="291.4" r="1.17" fill="rgb(170,170,170)" fill-opacity="0.60"/>
<circle cx="457.1" cy="301.8" r="0.90" fill="rgb(178,178,178)" fill-opacity="0.70"/>
<circle cx="468.3" cy="288.9" r="0.51" fill="rgb(135,135,135)" fill-opacity="0.27"/>
<circle cx="456.8" cy="283.7" r="0.79" fill="rgb(113,113,113)" fill-opacity="0.71"/>
<circle cx="460.4" cy="290.8" r="0.63" fill="rgb(157,157,157)" fill-opacity="0.57"/>
<circle cx="475.3" cy="291.0" r="1.19" fill="rgb(163,163,163)" fill-opacity="0.20"/>
<circle cx="456.4" cy="295.7" r="0.77" fill="rgb(105,105,105)" fill-opacity="0.73"/>
<circle cx="457.8" cy="294.5" r="0.94" fill="rgb(123,123,123)" fill-opacity="0.67"/>
<circle cx="459.9" cy="281.3" r="0.66" fill="rgb(83,83,83)" fill-opacity="0.59"/>
<circle cx="455.6" cy="269.3" r="1.18" fill="rgb(137,137,137)" fill-opacity="0.76"/>
<circle cx="477.4" cy="292.1" r="0.65" fill="rgb(129,129,129)" fill-opacity="0.20"/>
<circle cx="465.2" cy="305.6" r="1.06" fill="rgb(173,173,173)" fill-opacity="0.39"/>
<circle cx="459.0" cy="306.4" r="0.66" fill="rgb(162,162,162)" fill-opacity="0.63"/>
<circle cx="462.7" cy="290.9" r="1.08" fill="rgb(151,151,151)" fill-opacity="0.49"/>
<circle cx="457.1" cy="283.1" r="1.03" fill="rgb(107,107,107)" fill-opacity="0.70"/>
<circle cx="463.7" cy="279.0" r="0.75" fill="rgb(130,130,130)" fill-opacity="0.44"/>
<circle cx="458.7" cy="286.6" r="0.98" fill="rgb(118,118,118)" fill-opacity="0.64"/>
<circle cx="468.0" cy="291.4" r="0.50" fill="rgb(131,131,131)" fill-opacity="0.28"/>
<circle cx="455.8" cy="285.0" r="0.96" fill="rgb(101,101,101)" fill-opacity="0.75"/>
<circle cx="458.9" cy="303.4" r="0.95" fill="rgb(149,149,149)" fill-opacity="0.63"/>
<circle cx="459.1" cy="285.0" r="1.10" fill="rgb(108,108,108)" fill-opacity="0.62"/>
<circle cx="470.3" cy="299.6" r="1.05" fill="rgb(111,111,111)" fill-opacity="0.20"/>
<circle cx="465.3" cy="307.6" r="0.91" fill="rgb(151,151,151)" fill-opacity="0.38"/>
<circle cx="457.9" cy="287.3" r="0.96" fill="rgb(79,79,79)" fill-opacity="0.67"/>
<circle cx="454.5" cy="297.6" r="1.10" fill="rgb(88,88,88)" fill-opacity="0.80"/>
<circle cx="458.4" cy="303.1" r="0.61" fill="rgb(170,170,170)" fill-opacity="0.65"/>
<circle cx="467.6" cy="283.0" r="0.93" fill="rgb(91,91,91)" fill-opacity="0.29"/>
<circle cx="470.8" cy="304.6" r="1.05" fill="rgb(140,140,140)" fill-opacity="0.20"/>
<circle cx="457.7" cy="287.4" r="0.65" fill="rgb(158,158,158)" fill-opacity="0.68"/>
<circle cx="469.7" cy="302.1" r="1.12" fill="rgb(155,155,155)" fill-opacity="0.22"/>
<circle cx="461.1" cy="290.3" r="1.08" fill="rgb(99,99,99)" fill-opacity="0.54"/>
<circle cx="465.8" cy="295.1" r="0.83" fill="rgb(131,131,131)" fill-opacity="0.36"/>
<circle cx="460.9" cy="302.2" r="0.62" fill="rgb(133,133,133)" fill-opacity="0.55"/>
<circle cx="466.4" cy="283.5" r="1.09" fill="rgb(90,90,90)" fill-opacity="0.34"/>
<circle cx="465.8" cy="295.6" r="0.71" fill="rgb(155,155,155)" fill-opacity="0.36"/>
<circle cx="463.8" cy="295.2" r="0.55" fill="rgb(156,156,156)" fill-opacity="0.44"/>
<circle cx="462.8" cy="282.2" r="0.51" fill="rgb(73,73,73)" fill-opacity="0.48"/>
<circle cx="468.6" cy="297.6" r="1.07" fill="rgb(112,112,112)" fill-opacity="0.26"/>
<circle cx="463.1" cy="299.4" r="1.13" fill="rgb(166,166,166)" fill-opacity="0.47"/>
<circle cx="468.5" cy="296.4" r="0.59" fill="rgb(150,150,150)" fill-opacity="0.26"/>
<circle cx="465.4" cy="301.2" r="0.83" fill="rgb(113,113,113)" fill-opacity="0.38"/>
<circle cx="469.7" cy="290.3" r="0.70" fill="rgb(96,96,96)" fill-opacity="0.21"/>
<circle cx="458.2" cy="299.4" r="1.08" fill="rgb(76,76,76)" fill-opacity="0.66"/>
<circle cx="459.0" cy="311.1" r="0.73" fill="rgb(121,121,121)" fill-opacity="0.63"/>
<circle cx="472.7" cy="291.0" r="1.18" fill="rgb(114,114,114)" fill-opacity="0.20"/>
<circle cx="463.5" cy="278.4" r="0.63" fill="rgb(112,112,112)" fill-opacity="0.45"/>
<circle cx="455.6" cy="287.9" r="0.56" fill="rgb(151,151,151)" fill-opacity="0.76"/>
<circle cx="463.6" cy="292.8" r="1.12" fill="rgb(140,140,140)" fill-opacity="0.45"/>
<circle cx="457.3" cy="292.1" r="0.58" fill="rgb(108,108,108)" fill-opacity="0.69"/>
<circle cx="470.5" cy="298.3" r="0.93" fill="rgb(130,130,130)" fill-opacity="0.20"/>
<circle cx="463.2" cy="278.2" r="0.93" fill="rgb(139,139,139)" fill-opacity="0.47"/>
<circle cx="463.9" cy="283.6" r="0.98" fill="rgb(159,159,159)" fill-opacity="0.44"/>
<circle cx="457.2" cy="290.1" r="0.97" fill="rgb(75,75,75)" fill-opacity="0.70"/>
<circle cx="469.2" cy="297.4" r="0.96" fill="rgb(82,82,82)" fill-opacity="0.23"/>
<circle cx="460.9" cy="285.3" r="1.14" fill="rgb(82,82,82)" fill-opacity="0.55"/>
<circle cx="459.3" cy="285.0" r="0.60" fill="rgb(175,175,175)" fill-opacity="0.61"/>
<circle cx="459.7" cy="307.7" r="0.71" fill="rgb(180,180,180)" fill-opacity="0.60"/>
<circle cx="461.4" cy="297.1" r="0.90" fill="rgb(125,125,125)" fill-opacity="0.53"/>
<circle cx="472.1" cy="282.5" r="0.90" fill="rgb(133,133,133)" fill-opacity="0.20"/>
<circle cx="458.9" cy="294.2" r="0.79" fill="rgb(173,173,173)" fill-opacity="0.63"/>
<circle cx="457.6" cy="283.4" r="0.51" fill="rgb(78,78,78)" fill-opacity="0.68"/>
<circle cx="463.6" cy="301.7" r="1.19" fill="rgb(154,154,154)" fill-opacity="0.45"/>
<circle cx="463.7" cy="294.6" r="0.56" fill="rgb(83,83,83)" fill-opacity="0.45"/>
<circle cx="473.3" cy="296.7" r="0.51" fill="rgb(150,150,150)" fill-opacity="0.20"/>
<circle cx="468.2" cy="293.5" r="1.19" fill="rgb(85,85,85)" fill-opacity="0.27"/>
<circle cx="458.5" cy="287.6" r="0.59" fill="rgb(85,85,85)" fill-opacity="0.65"/>
<circle cx="468.8" cy="294.8" r="0.82" fill="rgb(101,101,101)" fill-opacity="0.25"/>
<circle cx="455.2" cy="270.4" r="1.04" fill="rgb(116,116,116)" fill-opacity="0.77"/>
<circle cx="458.5" cy="273.8" r="1.03" fill="rgb(163,163,163)" fill-opacity="0.65"/>
<circle cx="457.6" cy="305.3" r="0.82" fill="rgb(133,133,133)" fill-opacity="0.68"/>
<circle cx="460.8" cy="289.8" r="1.00" fill="rgb(76,76,76)" fill-opacity="0.56"/>
<circle cx="456.0" cy="293.1" r="0.98" fill="rgb(153,153,153)" fill-opacity="0.74"/>
<circle cx="461.1" cy="286.3" r="1.01" fill="rgb(109,109,109)" fill-opacity="0.55"/>
<circle cx="463.5" cy="310.2" r="0.93" fill="rgb(132,132,132)" fill-opacity="0.45"/>
<circle cx="455.9" cy="281.8" r="0.60" fill="rgb(91,91,91)" fill-opacity="0.75"/>
<circle cx="457.0" cy="283.9" r="0.61" fill="rgb(152,152,152)" fill-opacity="0.70"/>
<circle cx="457.8" cy="282.2" r="1.05" fill="rgb(169,169,169)" fill-opacity="0.67"/>
<circle cx="469.3" cy="287.1" r="0.73" fill="rgb(142,142,142)" fill-opacity="0.23"/>
<circle cx="456.8" cy="306.7" r="0.99" fill="rgb(153,153,153)" fill-opacity="0.71"/>
<circle cx="458.3" cy="285.1" r="1.01" fill="rgb(147,147,147)" fill-opacity="0.65"/>
<circle cx="459.6" cy="293.6" r="0.72" fill="rgb(176,176,176)" fill-opacity="0.60"/>
<circle cx="471.5" cy="302.1" r="0.77" fill="rgb(118,118,118)" fill-opacity="0.20"/>
<circle cx="465.5" cy="305.1" r="1.07" fill="rgb(99,99,99)" fill-opacity="0.38"/>
<circle cx="454.6" cy="293.6" r="0.69" fill="rgb(103,103,103)" fill-opacity="0.80"/>
<circle cx="465.6" cy="311.8" r="1.12" fill="rgb(167,167,167)" fill-opacity="0.37"/>
<circle cx="470.9" cy="298.0" r="1.12" fill="rgb(173,173,173)" fill-opacity="0.20"/>
<circle cx="459.6" cy="292.7" r="1.06" fill="rgb(178,178,178)" fill-opacity="0.60"/>
<circle cx="469.4" cy="287.9" r="0.74" fill="rgb(133,133,133)" fill-opacity="0.23"/>
<circle cx="464.3" cy="299.5" r="0.77" fill="rgb(172,172,172)" fill-opacity="0.42"/>
<circle cx="457.9" cy="277.4" r="0.72" fill="rgb(99,99,99)" fill-opacity="0.67"/>
<circle cx="462.9" cy="296.6" r="0.64" fill="rgb(160,160,160)" fill-opacity="0.48"/>
<circle cx="454.9" cy="309.7" r="0.77" fill="rgb(171,171,171)" fill-opacity="0.78"/>
<circle cx="465.3" cy="289.9" r="1.04" fill="rgb(115,115,115)" fill-opacity="0.38"/>
<circle cx="455.8" cy="306.1" r="1.12" fill="rgb(103,103,103)" fill-opacity="0.75"/>
<circle cx="464.6" cy="291.4" r="0.64" fill="rgb(145,145,145)" fill-opacity="0.41"/>
<circle cx="455.4" cy="297.3" r="0.99" fill="rgb(173,173,173)" fill-opacity="0.76"/>
<circle cx="462.1" cy="302.8" r="1.05" fill="rgb(121,121,121)" fill-opacity="0.51"/>
<circle cx="458.7" cy="287.1" r="0.76" fill="rgb(133,133,133)" fill-opacity="0.64"/>
<circle cx="464.5" cy="301.8" r="0.56" fill="rgb(170,170,170)" fill-opacity="0.41"/>
<circle cx="455.4" cy="295.3" r="0.86" fill="rgb(105,105,105)" fill-opacity="0.77"/>
<circle cx="456.8" cy="293.3" r="0.90" fill="rgb(180,180,180)" fill-opacity="0.71"/>
<circle cx="459.8" cy="289.4" r="0.70" fill="rgb(169,169,169)" fill-opacity="0.59"/>
<circle cx="462.5" cy="299.2" r="1.07" fill="rgb(145,145,145)" fill-opacity="0.49"/>
<circle cx="461.2" cy="291.3" r="0.74" fill="rgb(74,74,74)" fill-opacity="0.54"/>
<circle cx="463.3" cy="292.7" r="0.54" fill="rgb(73,73,73)" fill-opacity="0.46"/>
<circle cx="471.5" cy="285.9" r="0.84" fill="rgb(128,128,128)" fill-opacity="0.20"/>
<circle cx="465.3" cy="275.5" r="0.92" fill="rgb(180,180,180)" fill-opacity="0.38"/>
<circle cx="458.1" cy="296.0" r="0.68" fill="rgb(81,81,81)" fill-opacity="0.66"/>
<circle cx="466.3" cy="287.4" r="0.85" fill="rgb(155,155,155)" fill-opacity="0.34"/>
<circle cx="461.7" cy="310.8" r="1.18" fill="rgb(117,117,117)" fill-opacity="0.52"/>
<circle cx="460.9" cy="292.6" r="1.16" fill="rgb(74,74,74)" fill-opacity="0.56"/>
<circle cx="457.4" cy="291.7" r="1.13" fill="rgb(140,140,140)" fill-opacity="0.69"/>
<circle cx="456.0" cy="290.4" r="0.86" fill="rgb(170,170,170)" fill-opacity="0.74"/>
<circle cx="455.5" cy="276.1" r="0.54" fill="rgb(131,131,131)" fill-opacity="0.76"/>
<circle cx="463.8" cy="306.2" r="0.97" fill="rgb(95,95,95)" fill-opacity="0.44"/>
<circle cx="458.1" cy="305.8" r="0.96" fill="rgb(167,167,167)" fill-opacity="0.66"/>
<circle cx="463.0" cy="294.8" r="0.59" fill="rgb(119,119,119)" fill-opacity="0.47"/>
<circle cx="459.9" cy="293.7" r="1.07" fill="rgb(100,100,100)" fill-opacity="0.59"/>
<circle cx="470.8" cy="282.2" r="1.00" fill="rgb(129,129,129)" fill-opacity="0.20"/>
<circle cx="455.3" cy="295.5" r="0.65" fill="rgb(176,176,176)" fill-opacity="0.77"/>
<circle cx="471.0" cy="284.9" r="0.60" fill="rgb(165,165,165)" fill-opacity="0.20"/>
<circle cx="458.3" cy="294.5" r="1.09" fill="rgb(119,119,119)" fill-opacity="0.65"/>
<circle cx="461.3" cy="285.1" r="0.73" fill="rgb(113,113,113)" fill-opacity="0.54"/>
<circle cx="455.0" cy="297.9" r="0.60" fill="rgb(116,116,116)" fill-opacity="0.78"/>
<circle cx="455.0" cy="296.4" r="0.82" fill="rgb(161,161,161)" fill-opacity="0.78"/>
<circle cx="461.9" cy="286.1" r="0.69" fill="rgb(89,89,89)" fill-opacity="0.51"/>
<circle cx="459.0" cy="296.1" r="0.90" fill="rgb(104,104,104)" fill-opacity="0.63"/>
<circle cx="459.2" cy="310.3" r="0.84" fill="rgb(103,103,103)" fill-opacity="0.62"/>
<circle cx="462.6" cy="312.7" r="0.61" fill="rgb(84,84,84)" fill-opacity="0.49"/>
<circle cx="467.2" cy="291.8" r="0.97" fill="rgb(170,170,170)" fill-opacity="0.31"/>
<circle cx="457.0" cy="304.1" r="0.58" fill="rgb(106,106,106)" fill-opacity="0.70"/>
<circle cx="460.9" cy="296.2" r="1.15" fill="rgb(100,100,100)" fill-opacity="0.55"/>
<circle cx="460.6" cy="297.8" r="0.54" fill="rgb(90,90,90)" fill-opacity="0.57"/>
<circle cx="455.6" cy="284.8" r="0.51" fill="rgb(151,151,151)" fill-opacity="0.76"/>
<circle cx="457.4" cy="284.4" r="0.81" fill="rgb(87,87,87)" fill-opacity="0.69"/>
<circle cx="456.4" cy="302.2" r="1.14" fill="rgb(75,75,75)" fill-opacity="0.73"/>
<circle cx="456.8" cy="305.8" r="1.09" fill="rgb(87,87,87)" fill-opacity="0.71"/>
<circle cx="461.0" cy="292.0" r="0.64" fill="rgb(92,92,92)" fill-opacity="0.55"/>
<circle cx="457.9" cy="295.0" r="1.01" fill="rgb(147,147,147)" fill-opacity="0.67"/>
<circle cx="454.9" cy="286.8" r="0.93" fill="rgb(87,87,87)" fill-opacity="0.78"/>
<circle cx="458.8" cy="275.4" r="0.72" fill="rgb(144,144,144)" fill-opacity="0.63"/>
<circle cx="468.3" cy="294.0" r="0.79" fill="rgb(136,136,136)" fill-opacity="0.27"/>
<circle cx="455.0" cy="289.7" r="0.74" fill="rgb(173,173,173)" fill-opacity="0.78"/>
<circle cx="457.0" cy="307.0" r="0.56" fill="rgb(133,133,133)" fill-opacity="0.70"/>
<circle cx="467.4" cy="302.1" r="1.11" fill="rgb(87,87,87)" fill-opacity="0.31"/>
<circle cx="455.1" cy="299.4" r="1.19" fill="rgb(176,176,176)" fill-opacity="0.78"/>
<circle cx="468.1" cy="296.6" r="0.92" fill="rgb(143,143,143)" fill-opacity="0.28"/>
<circle cx="465.4" cy="293.4" r="1.18" fill="rgb(127,127,127)" fill-opacity="0.38"/>
</g>
<g filter="url(#dblur)"><ellipse cx="545" cy="293" rx="17" ry="22" fill="url(#dustg)"/>
<circle cx="552.1" cy="297.1" r="1.07" fill="rgb(101,101,101)" fill-opacity="0.51"/>
<circle cx="549.8" cy="286.4" r="1.11" fill="rgb(161,161,161)" fill-opacity="0.60"/>
<circle cx="561.6" cy="283.1" r="1.11" fill="rgb(107,107,107)" fill-opacity="0.20"/>
<circle cx="554.6" cy="289.7" r="0.52" fill="rgb(135,135,135)" fill-opacity="0.41"/>
<circle cx="546.1" cy="287.9" r="1.18" fill="rgb(101,101,101)" fill-opacity="0.74"/>
<circle cx="545.4" cy="299.3" r="0.72" fill="rgb(83,83,83)" fill-opacity="0.76"/>
<circle cx="565.6" cy="284.5" r="0.57" fill="rgb(72,72,72)" fill-opacity="0.20"/>
<circle cx="546.4" cy="286.7" r="1.09" fill="rgb(72,72,72)" fill-opacity="0.73"/>
<circle cx="551.1" cy="284.5" r="0.99" fill="rgb(100,100,100)" fill-opacity="0.55"/>
<circle cx="559.0" cy="305.2" r="0.63" fill="rgb(161,161,161)" fill-opacity="0.24"/>
<circle cx="546.0" cy="304.1" r="0.85" fill="rgb(144,144,144)" fill-opacity="0.74"/>
<circle cx="545.3" cy="298.0" r="1.12" fill="rgb(121,121,121)" fill-opacity="0.77"/>
<circle cx="550.7" cy="291.1" r="0.60" fill="rgb(99,99,99)" fill-opacity="0.56"/>
<circle cx="557.9" cy="285.7" r="1.16" fill="rgb(91,91,91)" fill-opacity="0.29"/>
<circle cx="557.2" cy="294.6" r="0.79" fill="rgb(158,158,158)" fill-opacity="0.31"/>
<circle cx="550.4" cy="282.7" r="1.18" fill="rgb(120,120,120)" fill-opacity="0.57"/>
<circle cx="552.6" cy="296.0" r="0.67" fill="rgb(121,121,121)" fill-opacity="0.49"/>
<circle cx="549.4" cy="302.2" r="1.06" fill="rgb(142,142,142)" fill-opacity="0.61"/>
<circle cx="558.6" cy="283.4" r="0.89" fill="rgb(178,178,178)" fill-opacity="0.26"/>
<circle cx="546.8" cy="298.0" r="1.15" fill="rgb(157,157,157)" fill-opacity="0.71"/>
<circle cx="544.5" cy="303.5" r="0.51" fill="rgb(150,150,150)" fill-opacity="0.80"/>
<circle cx="549.0" cy="297.1" r="0.80" fill="rgb(111,111,111)" fill-opacity="0.63"/>
<circle cx="546.3" cy="292.9" r="0.79" fill="rgb(87,87,87)" fill-opacity="0.73"/>
<circle cx="547.2" cy="293.9" r="0.52" fill="rgb(75,75,75)" fill-opacity="0.70"/>
<circle cx="549.0" cy="286.9" r="0.94" fill="rgb(156,156,156)" fill-opacity="0.63"/>
<circle cx="555.8" cy="279.9" r="0.93" fill="rgb(74,74,74)" fill-opacity="0.37"/>
<circle cx="544.5" cy="305.1" r="0.67" fill="rgb(125,125,125)" fill-opacity="0.80"/>
<circle cx="548.8" cy="294.2" r="0.95" fill="rgb(114,114,114)" fill-opacity="0.64"/>
<circle cx="553.3" cy="302.2" r="1.13" fill="rgb(135,135,135)" fill-opacity="0.46"/>
<circle cx="554.9" cy="299.8" r="0.81" fill="rgb(88,88,88)" fill-opacity="0.40"/>
<circle cx="563.2" cy="291.5" r="0.90" fill="rgb(122,122,122)" fill-opacity="0.20"/>
<circle cx="546.7" cy="309.1" r="0.88" fill="rgb(164,164,164)" fill-opacity="0.71"/>
<circle cx="551.1" cy="281.4" r="0.66" fill="rgb(142,142,142)" fill-opacity="0.55"/>
<circle cx="553.1" cy="301.2" r="0.82" fill="rgb(116,116,116)" fill-opacity="0.47"/>
<circle cx="556.3" cy="288.9" r="1.07" fill="rgb(130,130,130)" fill-opacity="0.34"/>
<circle cx="552.5" cy="294.7" r="0.86" fill="rgb(94,94,94)" fill-opacity="0.49"/>
<circle cx="553.4" cy="301.9" r="1.15" fill="rgb(71,71,71)" fill-opacity="0.46"/>
<circle cx="548.1" cy="300.9" r="0.70" fill="rgb(104,104,104)" fill-opacity="0.66"/>
<circle cx="552.0" cy="292.3" r="0.52" fill="rgb(168,168,168)" fill-opacity="0.51"/>
<circle cx="556.2" cy="288.7" r="0.81" fill="rgb(114,114,114)" fill-opacity="0.35"/>
<circle cx="552.7" cy="296.8" r="0.75" fill="rgb(126,126,126)" fill-opacity="0.48"/>
<circle cx="545.4" cy="280.9" r="1.02" fill="rgb(156,156,156)" fill-opacity="0.77"/>
<circle cx="549.1" cy="300.5" r="0.60" fill="rgb(115,115,115)" fill-opacity="0.62"/>
<circle cx="548.1" cy="306.1" r="1.07" fill="rgb(105,105,105)" fill-opacity="0.66"/>
<circle cx="559.2" cy="291.2" r="1.15" fill="rgb(165,165,165)" fill-opacity="0.24"/>
<circle cx="551.6" cy="292.8" r="1.00" fill="rgb(150,150,150)" fill-opacity="0.53"/>
<circle cx="548.5" cy="290.3" r="0.50" fill="rgb(83,83,83)" fill-opacity="0.64"/>
<circle cx="545.7" cy="279.8" r="0.78" fill="rgb(133,133,133)" fill-opacity="0.75"/>
<circle cx="549.6" cy="292.7" r="1.05" fill="rgb(178,178,178)" fill-opacity="0.60"/>
<circle cx="553.1" cy="283.2" r="1.10" fill="rgb(118,118,118)" fill-opacity="0.47"/>
<circle cx="547.1" cy="285.3" r="0.71" fill="rgb(115,115,115)" fill-opacity="0.70"/>
<circle cx="553.4" cy="301.1" r="0.95" fill="rgb(119,119,119)" fill-opacity="0.46"/>
<circle cx="559.4" cy="293.7" r="0.77" fill="rgb(133,133,133)" fill-opacity="0.23"/>
<circle cx="548.0" cy="304.8" r="0.60" fill="rgb(172,172,172)" fill-opacity="0.67"/>
<circle cx="555.1" cy="287.0" r="1.08" fill="rgb(81,81,81)" fill-opacity="0.39"/>
<circle cx="549.7" cy="288.3" r="0.64" fill="rgb(111,111,111)" fill-opacity="0.60"/>
<circle cx="562.2" cy="302.8" r="0.52" fill="rgb(71,71,71)" fill-opacity="0.20"/>
<circle cx="545.3" cy="314.3" r="1.14" fill="rgb(108,108,108)" fill-opacity="0.77"/>
<circle cx="546.1" cy="280.7" r="0.86" fill="rgb(125,125,125)" fill-opacity="0.74"/>
<circle cx="558.1" cy="291.4" r="0.82" fill="rgb(119,119,119)" fill-opacity="0.28"/>
<circle cx="557.6" cy="296.8" r="1.16" fill="rgb(127,127,127)" fill-opacity="0.30"/>
<circle cx="549.4" cy="282.1" r="0.79" fill="rgb(82,82,82)" fill-opacity="0.61"/>
<circle cx="557.5" cy="292.9" r="0.61" fill="rgb(143,143,143)" fill-opacity="0.30"/>
<circle cx="548.1" cy="302.7" r="0.81" fill="rgb(121,121,121)" fill-opacity="0.66"/>
<circle cx="550.6" cy="303.2" r="0.56" fill="rgb(174,174,174)" fill-opacity="0.56"/>
<circle cx="550.1" cy="300.3" r="1.08" fill="rgb(79,79,79)" fill-opacity="0.58"/>
<circle cx="548.8" cy="292.6" r="0.98" fill="rgb(107,107,107)" fill-opacity="0.63"/>
<circle cx="551.7" cy="286.2" r="0.87" fill="rgb(90,90,90)" fill-opacity="0.52"/>
<circle cx="547.0" cy="286.8" r="0.79" fill="rgb(94,94,94)" fill-opacity="0.70"/>
<circle cx="555.3" cy="297.8" r="0.75" fill="rgb(83,83,83)" fill-opacity="0.38"/>
<circle cx="557.3" cy="292.4" r="0.98" fill="rgb(75,75,75)" fill-opacity="0.31"/>
<circle cx="545.2" cy="293.1" r="0.98" fill="rgb(160,160,160)" fill-opacity="0.77"/>
<circle cx="552.2" cy="293.2" r="0.57" fill="rgb(177,177,177)" fill-opacity="0.51"/>
<circle cx="546.7" cy="293.2" r="0.85" fill="rgb(92,92,92)" fill-opacity="0.72"/>
<circle cx="551.2" cy="290.4" r="1.13" fill="rgb(152,152,152)" fill-opacity="0.54"/>
<circle cx="549.5" cy="292.5" r="0.79" fill="rgb(95,95,95)" fill-opacity="0.61"/>
<circle cx="548.3" cy="297.0" r="0.86" fill="rgb(167,167,167)" fill-opacity="0.65"/>
<circle cx="548.0" cy="293.7" r="0.84" fill="rgb(136,136,136)" fill-opacity="0.66"/>
<circle cx="553.9" cy="295.2" r="0.54" fill="rgb(172,172,172)" fill-opacity="0.44"/>
<circle cx="559.9" cy="294.3" r="0.60" fill="rgb(111,111,111)" fill-opacity="0.21"/>
<circle cx="545.0" cy="301.0" r="0.69" fill="rgb(74,74,74)" fill-opacity="0.78"/>
<circle cx="560.3" cy="305.7" r="0.54" fill="rgb(144,144,144)" fill-opacity="0.20"/>
<circle cx="549.0" cy="306.1" r="0.54" fill="rgb(72,72,72)" fill-opacity="0.63"/>
<circle cx="553.7" cy="284.6" r="0.81" fill="rgb(75,75,75)" fill-opacity="0.45"/>
<circle cx="549.5" cy="287.8" r="0.61" fill="rgb(75,75,75)" fill-opacity="0.61"/>
<circle cx="549.2" cy="289.8" r="1.13" fill="rgb(70,70,70)" fill-opacity="0.62"/>
<circle cx="547.6" cy="285.2" r="0.68" fill="rgb(147,147,147)" fill-opacity="0.68"/>
<circle cx="556.8" cy="299.2" r="1.00" fill="rgb(156,156,156)" fill-opacity="0.33"/>
<circle cx="545.9" cy="301.5" r="0.84" fill="rgb(161,161,161)" fill-opacity="0.75"/>
<circle cx="546.3" cy="285.8" r="0.62" fill="rgb(92,92,92)" fill-opacity="0.73"/>
<circle cx="545.3" cy="293.9" r="0.78" fill="rgb(107,107,107)" fill-opacity="0.77"/>
<circle cx="549.8" cy="299.9" r="0.74" fill="rgb(119,119,119)" fill-opacity="0.60"/>
<circle cx="562.1" cy="303.4" r="0.67" fill="rgb(140,140,140)" fill-opacity="0.20"/>
<circle cx="547.2" cy="300.6" r="0.80" fill="rgb(100,100,100)" fill-opacity="0.70"/>
<circle cx="544.9" cy="295.2" r="0.61" fill="rgb(173,173,173)" fill-opacity="0.79"/>
<circle cx="545.6" cy="288.8" r="0.88" fill="rgb(104,104,104)" fill-opacity="0.76"/>
<circle cx="547.2" cy="280.6" r="1.09" fill="rgb(129,129,129)" fill-opacity="0.70"/>
<circle cx="546.3" cy="287.5" r="0.65" fill="rgb(115,115,115)" fill-opacity="0.73"/>
<circle cx="555.0" cy="300.9" r="0.65" fill="rgb(144,144,144)" fill-opacity="0.40"/>
<circle cx="554.7" cy="289.4" r="1.10" fill="rgb(99,99,99)" fill-opacity="0.41"/>
<circle cx="556.6" cy="292.8" r="0.91" fill="rgb(126,126,126)" fill-opacity="0.33"/>
<circle cx="549.1" cy="298.5" r="0.86" fill="rgb(147,147,147)" fill-opacity="0.62"/>
<circle cx="555.1" cy="304.8" r="0.86" fill="rgb(156,156,156)" fill-opacity="0.39"/>
<circle cx="551.4" cy="290.9" r="1.04" fill="rgb(168,168,168)" fill-opacity="0.53"/>
<circle cx="558.6" cy="295.9" r="0.72" fill="rgb(88,88,88)" fill-opacity="0.26"/>
<circle cx="547.4" cy="295.7" r="1.04" fill="rgb(92,92,92)" fill-opacity="0.69"/>
<circle cx="545.2" cy="299.4" r="0.55" fill="rgb(83,83,83)" fill-opacity="0.77"/>
<circle cx="558.5" cy="283.7" r="0.71" fill="rgb(167,167,167)" fill-opacity="0.26"/>
<circle cx="551.6" cy="296.5" r="0.70" fill="rgb(98,98,98)" fill-opacity="0.53"/>
<circle cx="548.2" cy="283.8" r="0.78" fill="rgb(115,115,115)" fill-opacity="0.66"/>
<circle cx="557.6" cy="283.6" r="1.10" fill="rgb(150,150,150)" fill-opacity="0.30"/>
<circle cx="549.4" cy="298.9" r="0.76" fill="rgb(73,73,73)" fill-opacity="0.61"/>
<circle cx="548.7" cy="278.4" r="0.52" fill="rgb(122,122,122)" fill-opacity="0.64"/>
<circle cx="547.4" cy="282.3" r="0.78" fill="rgb(178,178,178)" fill-opacity="0.69"/>
<circle cx="547.9" cy="290.5" r="0.58" fill="rgb(107,107,107)" fill-opacity="0.67"/>
<circle cx="557.0" cy="284.5" r="0.97" fill="rgb(161,161,161)" fill-opacity="0.32"/>
<circle cx="554.7" cy="300.7" r="0.64" fill="rgb(125,125,125)" fill-opacity="0.41"/>
<circle cx="547.4" cy="302.3" r="0.89" fill="rgb(75,75,75)" fill-opacity="0.69"/>
<circle cx="550.4" cy="290.2" r="1.00" fill="rgb(133,133,133)" fill-opacity="0.57"/>
<circle cx="544.8" cy="303.7" r="0.90" fill="rgb(157,157,157)" fill-opacity="0.79"/>
<circle cx="548.5" cy="291.1" r="1.04" fill="rgb(167,167,167)" fill-opacity="0.64"/>
<circle cx="545.1" cy="295.9" r="0.91" fill="rgb(179,179,179)" fill-opacity="0.78"/>
<circle cx="545.5" cy="290.5" r="0.65" fill="rgb(110,110,110)" fill-opacity="0.76"/>
<circle cx="557.4" cy="284.5" r="0.79" fill="rgb(81,81,81)" fill-opacity="0.31"/>
<circle cx="549.3" cy="288.3" r="0.56" fill="rgb(137,137,137)" fill-opacity="0.62"/>
<circle cx="553.4" cy="289.5" r="0.98" fill="rgb(113,113,113)" fill-opacity="0.46"/>
<circle cx="545.7" cy="274.2" r="0.94" fill="rgb(150,150,150)" fill-opacity="0.75"/>
<circle cx="558.0" cy="292.2" r="0.80" fill="rgb(96,96,96)" fill-opacity="0.28"/>
<circle cx="565.1" cy="291.3" r="0.84" fill="rgb(86,86,86)" fill-opacity="0.20"/>
<circle cx="549.7" cy="281.6" r="0.88" fill="rgb(92,92,92)" fill-opacity="0.60"/>
<circle cx="557.1" cy="290.3" r="0.68" fill="rgb(139,139,139)" fill-opacity="0.32"/>
<circle cx="549.8" cy="291.6" r="0.79" fill="rgb(114,114,114)" fill-opacity="0.60"/>
<circle cx="546.8" cy="301.2" r="0.98" fill="rgb(87,87,87)" fill-opacity="0.71"/>
<circle cx="554.8" cy="294.0" r="0.67" fill="rgb(160,160,160)" fill-opacity="0.40"/>
<circle cx="554.2" cy="292.0" r="0.75" fill="rgb(152,152,152)" fill-opacity="0.43"/>
<circle cx="550.2" cy="312.8" r="0.91" fill="rgb(88,88,88)" fill-opacity="0.58"/>
<circle cx="545.2" cy="307.1" r="0.88" fill="rgb(85,85,85)" fill-opacity="0.77"/>
<circle cx="544.9" cy="286.9" r="0.61" fill="rgb(155,155,155)" fill-opacity="0.79"/>
<circle cx="561.6" cy="290.5" r="1.08" fill="rgb(121,121,121)" fill-opacity="0.20"/>
<circle cx="550.1" cy="298.4" r="0.84" fill="rgb(116,116,116)" fill-opacity="0.58"/>
<circle cx="562.9" cy="298.7" r="0.64" fill="rgb(108,108,108)" fill-opacity="0.20"/>
<circle cx="547.4" cy="282.6" r="0.61" fill="rgb(84,84,84)" fill-opacity="0.69"/>
<circle cx="555.5" cy="297.4" r="0.62" fill="rgb(107,107,107)" fill-opacity="0.38"/>
<circle cx="545.7" cy="293.6" r="0.84" fill="rgb(166,166,166)" fill-opacity="0.75"/>
<circle cx="544.6" cy="284.0" r="0.89" fill="rgb(164,164,164)" fill-opacity="0.79"/>
<circle cx="552.6" cy="300.3" r="0.84" fill="rgb(125,125,125)" fill-opacity="0.49"/>
<circle cx="546.2" cy="284.4" r="1.14" fill="rgb(115,115,115)" fill-opacity="0.74"/>
<circle cx="552.3" cy="281.9" r="0.96" fill="rgb(163,163,163)" fill-opacity="0.50"/>
<circle cx="544.6" cy="300.5" r="1.02" fill="rgb(87,87,87)" fill-opacity="0.80"/>
<circle cx="553.4" cy="294.6" r="0.71" fill="rgb(88,88,88)" fill-opacity="0.46"/>
<circle cx="549.5" cy="306.1" r="1.13" fill="rgb(178,178,178)" fill-opacity="0.61"/>
<circle cx="546.2" cy="288.8" r="1.08" fill="rgb(162,162,162)" fill-opacity="0.73"/>
<circle cx="544.9" cy="284.1" r="0.95" fill="rgb(93,93,93)" fill-opacity="0.79"/>
<circle cx="548.5" cy="298.7" r="0.89" fill="rgb(87,87,87)" fill-opacity="0.64"/>
<circle cx="556.1" cy="306.8" r="0.54" fill="rgb(100,100,100)" fill-opacity="0.36"/>
<circle cx="557.2" cy="304.2" r="1.20" fill="rgb(174,174,174)" fill-opacity="0.31"/>
<circle cx="546.9" cy="294.8" r="0.85" fill="rgb(97,97,97)" fill-opacity="0.71"/>
<circle cx="549.8" cy="293.0" r="0.92" fill="rgb(108,108,108)" fill-opacity="0.60"/>
<circle cx="548.0" cy="289.1" r="0.61" fill="rgb(99,99,99)" fill-opacity="0.67"/>
<circle cx="566.8" cy="302.2" r="1.19" fill="rgb(81,81,81)" fill-opacity="0.20"/>
<circle cx="550.6" cy="283.8" r="1.01" fill="rgb(97,97,97)" fill-opacity="0.57"/>
<circle cx="561.8" cy="293.3" r="1.08" fill="rgb(179,179,179)" fill-opacity="0.20"/>
<circle cx="549.5" cy="292.6" r="0.96" fill="rgb(79,79,79)" fill-opacity="0.61"/>
<circle cx="553.9" cy="292.0" r="0.54" fill="rgb(113,113,113)" fill-opacity="0.44"/>
<circle cx="567.0" cy="294.4" r="1.13" fill="rgb(92,92,92)" fill-opacity="0.20"/>
<circle cx="548.4" cy="300.2" r="1.06" fill="rgb(126,126,126)" fill-opacity="0.65"/>
<circle cx="549.8" cy="281.5" r="0.56" fill="rgb(130,130,130)" fill-opacity="0.60"/>
<circle cx="549.0" cy="302.9" r="1.14" fill="rgb(138,138,138)" fill-opacity="0.63"/>
<circle cx="556.7" cy="289.7" r="1.07" fill="rgb(173,173,173)" fill-opacity="0.33"/>
<circle cx="545.9" cy="284.2" r="0.71" fill="rgb(154,154,154)" fill-opacity="0.75"/>
<circle cx="564.6" cy="282.3" r="0.96" fill="rgb(131,131,131)" fill-opacity="0.20"/>
<circle cx="556.3" cy="308.2" r="1.12" fill="rgb(137,137,137)" fill-opacity="0.35"/>
<circle cx="550.2" cy="294.1" r="1.02" fill="rgb(156,156,156)" fill-opacity="0.58"/>
<circle cx="546.3" cy="287.7" r="0.76" fill="rgb(144,144,144)" fill-opacity="0.73"/>
<circle cx="552.7" cy="288.0" r="0.67" fill="rgb(137,137,137)" fill-opacity="0.49"/>
<circle cx="551.0" cy="295.8" r="0.63" fill="rgb(99,99,99)" fill-opacity="0.55"/>
<circle cx="553.2" cy="285.0" r="0.65" fill="rgb(84,84,84)" fill-opacity="0.46"/>
<circle cx="551.3" cy="280.6" r="0.87" fill="rgb(94,94,94)" fill-opacity="0.54"/>
<circle cx="544.6" cy="304.6" r="0.82" fill="rgb(140,140,140)" fill-opacity="0.80"/>
<circle cx="557.9" cy="289.0" r="0.86" fill="rgb(164,164,164)" fill-opacity="0.28"/>
<circle cx="547.6" cy="290.8" r="0.98" fill="rgb(122,122,122)" fill-opacity="0.68"/>
<circle cx="546.0" cy="287.9" r="0.89" fill="rgb(134,134,134)" fill-opacity="0.74"/>
<circle cx="547.8" cy="276.6" r="0.94" fill="rgb(84,84,84)" fill-opacity="0.67"/>
<circle cx="555.0" cy="290.0" r="1.08" fill="rgb(128,128,128)" fill-opacity="0.40"/>
<circle cx="548.8" cy="296.8" r="0.89" fill="rgb(94,94,94)" fill-opacity="0.63"/>
<circle cx="545.3" cy="287.6" r="0.93" fill="rgb(169,169,169)" fill-opacity="0.77"/>
<circle cx="546.8" cy="294.8" r="0.51" fill="rgb(75,75,75)" fill-opacity="0.71"/>
<circle cx="549.7" cy="289.1" r="0.58" fill="rgb(108,108,108)" fill-opacity="0.60"/>
<circle cx="557.5" cy="309.5" r="0.93" fill="rgb(81,81,81)" fill-opacity="0.30"/>
<circle cx="552.5" cy="283.7" r="1.11" fill="rgb(163,163,163)" fill-opacity="0.49"/>
<circle cx="551.8" cy="307.4" r="1.06" fill="rgb(113,113,113)" fill-opacity="0.52"/>
<circle cx="544.6" cy="291.5" r="0.59" fill="rgb(102,102,102)" fill-opacity="0.80"/>
<circle cx="554.8" cy="304.7" r="1.01" fill="rgb(115,115,115)" fill-opacity="0.40"/>
<circle cx="556.3" cy="296.7" r="0.75" fill="rgb(82,82,82)" fill-opacity="0.35"/>
<circle cx="550.2" cy="305.0" r="1.15" fill="rgb(74,74,74)" fill-opacity="0.58"/>
<circle cx="547.6" cy="286.2" r="0.99" fill="rgb(94,94,94)" fill-opacity="0.68"/>
<circle cx="559.3" cy="299.5" r="0.58" fill="rgb(132,132,132)" fill-opacity="0.23"/>
<circle cx="546.3" cy="286.9" r="1.15" fill="rgb(140,140,140)" fill-opacity="0.73"/>
<circle cx="553.9" cy="282.4" r="0.60" fill="rgb(177,177,177)" fill-opacity="0.44"/>
<circle cx="552.4" cy="284.2" r="1.03" fill="rgb(158,158,158)" fill-opacity="0.49"/>
<circle cx="545.6" cy="303.8" r="0.74" fill="rgb(73,73,73)" fill-opacity="0.76"/>
<circle cx="550.7" cy="302.6" r="1.06" fill="rgb(74,74,74)" fill-opacity="0.56"/>
<circle cx="550.1" cy="294.4" r="0.95" fill="rgb(174,174,174)" fill-opacity="0.59"/>
<circle cx="558.5" cy="281.7" r="0.99" fill="rgb(90,90,90)" fill-opacity="0.26"/>
<circle cx="550.7" cy="295.3" r="0.86" fill="rgb(148,148,148)" fill-opacity="0.56"/>
<circle cx="551.6" cy="302.4" r="1.13" fill="rgb(109,109,109)" fill-opacity="0.53"/>
<circle cx="546.8" cy="291.4" r="1.07" fill="rgb(91,91,91)" fill-opacity="0.71"/>
<circle cx="545.7" cy="284.1" r="0.77" fill="rgb(129,129,129)" fill-opacity="0.76"/>
<circle cx="545.1" cy="293.9" r="0.84" fill="rgb(144,144,144)" fill-opacity="0.78"/>
<circle cx="545.5" cy="300.5" r="0.53" fill="rgb(147,147,147)" fill-opacity="0.76"/>
<circle cx="552.7" cy="304.8" r="0.77" fill="rgb(104,104,104)" fill-opacity="0.49"/>
<circle cx="551.8" cy="303.2" r="1.17" fill="rgb(144,144,144)" fill-opacity="0.52"/>
<circle cx="546.9" cy="292.9" r="1.13" fill="rgb(141,141,141)" fill-opacity="0.71"/>
<circle cx="549.5" cy="296.8" r="0.94" fill="rgb(124,124,124)" fill-opacity="0.61"/>
<circle cx="550.2" cy="285.9" r="1.06" fill="rgb(106,106,106)" fill-opacity="0.58"/>
<circle cx="545.7" cy="310.8" r="0.98" fill="rgb(88,88,88)" fill-opacity="0.75"/>
<circle cx="549.6" cy="309.0" r="0.75" fill="rgb(164,164,164)" fill-opacity="0.60"/>
<circle cx="548.6" cy="287.0" r="1.00" fill="rgb(140,140,140)" fill-opacity="0.64"/>
<circle cx="551.6" cy="306.5" r="0.73" fill="rgb(155,155,155)" fill-opacity="0.53"/>
<circle cx="554.8" cy="292.2" r="1.13" fill="rgb(117,117,117)" fill-opacity="0.40"/>
<circle cx="548.1" cy="298.5" r="0.82" fill="rgb(155,155,155)" fill-opacity="0.66"/>
<circle cx="555.5" cy="297.4" r="1.15" fill="rgb(108,108,108)" fill-opacity="0.38"/>
<circle cx="548.8" cy="290.1" r="0.72" fill="rgb(162,162,162)" fill-opacity="0.64"/>
<circle cx="546.2" cy="280.5" r="0.55" fill="rgb(113,113,113)" fill-opacity="0.74"/>
<circle cx="551.1" cy="288.7" r="1.19" fill="rgb(115,115,115)" fill-opacity="0.55"/>
<circle cx="554.2" cy="306.5" r="1.00" fill="rgb(124,124,124)" fill-opacity="0.43"/>
<circle cx="559.7" cy="284.0" r="1.13" fill="rgb(110,110,110)" fill-opacity="0.22"/>
<circle cx="545.6" cy="300.6" r="1.03" fill="rgb(72,72,72)" fill-opacity="0.76"/>
<circle cx="549.1" cy="287.8" r="0.65" fill="rgb(72,72,72)" fill-opacity="0.62"/>
<circle cx="549.4" cy="296.9" r="0.70" fill="rgb(147,147,147)" fill-opacity="0.61"/>
<circle cx="548.6" cy="292.9" r="1.01" fill="rgb(100,100,100)" fill-opacity="0.64"/>
<circle cx="556.4" cy="289.9" r="0.55" fill="rgb(80,80,80)" fill-opacity="0.34"/>
<circle cx="549.3" cy="281.0" r="0.60" fill="rgb(162,162,162)" fill-opacity="0.62"/>
<circle cx="548.7" cy="304.5" r="0.95" fill="rgb(71,71,71)" fill-opacity="0.64"/>
<circle cx="550.0" cy="289.8" r="1.11" fill="rgb(111,111,111)" fill-opacity="0.59"/>
<circle cx="554.7" cy="295.0" r="0.98" fill="rgb(148,148,148)" fill-opacity="0.41"/>
<circle cx="546.1" cy="295.9" r="1.06" fill="rgb(123,123,123)" fill-opacity="0.74"/>
<circle cx="555.1" cy="300.2" r="0.85" fill="rgb(169,169,169)" fill-opacity="0.39"/>
<circle cx="550.2" cy="288.6" r="1.11" fill="rgb(129,129,129)" fill-opacity="0.58"/>
<circle cx="552.3" cy="294.4" r="1.19" fill="rgb(153,153,153)" fill-opacity="0.50"/>
<circle cx="556.2" cy="297.8" r="1.08" fill="rgb(162,162,162)" fill-opacity="0.35"/>
<circle cx="545.5" cy="294.6" r="0.60" fill="rgb(96,96,96)" fill-opacity="0.76"/>
<circle cx="544.9" cy="288.7" r="0.75" fill="rgb(174,174,174)" fill-opacity="0.78"/>
<circle cx="552.1" cy="305.5" r="0.89" fill="rgb(180,180,180)" fill-opacity="0.51"/>
<circle cx="551.2" cy="281.7" r="0.66" fill="rgb(112,112,112)" fill-opacity="0.54"/>
<circle cx="556.6" cy="280.6" r="1.03" fill="rgb(131,131,131)" fill-opacity="0.33"/>
<circle cx="545.8" cy="284.5" r="0.88" fill="rgb(168,168,168)" fill-opacity="0.75"/>
<circle cx="547.6" cy="280.7" r="0.87" fill="rgb(116,116,116)" fill-opacity="0.68"/>
<circle cx="549.0" cy="291.1" r="0.89" fill="rgb(71,71,71)" fill-opacity="0.63"/>
<circle cx="557.8" cy="303.7" r="0.61" fill="rgb(116,116,116)" fill-opacity="0.29"/>
<circle cx="550.8" cy="285.7" r="1.16" fill="rgb(81,81,81)" fill-opacity="0.56"/>
<circle cx="547.8" cy="289.4" r="0.85" fill="rgb(139,139,139)" fill-opacity="0.67"/>
<circle cx="549.9" cy="290.8" r="0.76" fill="rgb(147,147,147)" fill-opacity="0.59"/>
<circle cx="547.8" cy="298.0" r="1.10" fill="rgb(164,164,164)" fill-opacity="0.67"/>
<circle cx="546.5" cy="280.9" r="1.04" fill="rgb(114,114,114)" fill-opacity="0.72"/>
<circle cx="557.3" cy="293.1" r="1.13" fill="rgb(114,114,114)" fill-opacity="0.31"/>
<circle cx="549.3" cy="297.4" r="1.13" fill="rgb(171,171,171)" fill-opacity="0.62"/>
<circle cx="555.9" cy="303.2" r="1.06" fill="rgb(78,78,78)" fill-opacity="0.36"/>
<circle cx="556.0" cy="285.3" r="0.54" fill="rgb(114,114,114)" fill-opacity="0.36"/>
<circle cx="553.0" cy="289.0" r="1.16" fill="rgb(118,118,118)" fill-opacity="0.47"/>
</g>

<!-- signal line -->
<rect x="182" y="289.6" width="586.5" height="3.2" fill="#000"/>
<rect x="765.6" y="289.6" width="3.2" height="127.2" fill="#000"/>
<text x="182.3" y="284.3" font-size="19" fill="#111" stroke="#111" stroke-width="0.45" letter-spacing="-1" word-spacing="1.5" textLength="148.5" lengthAdjust="spacingAndGlyphs">WIRELESS SIGNAL</text>

<!-- walls -->
<g filter="url(#soft)">
<use href="#wall" x="334" y="205"/>
<use href="#wall" x="424" y="205"/>
<use href="#wall" x="514" y="205"/>
</g>

<!-- ============ sensor ============ -->
<g>
  <!-- cable from box to coil -->
  <path d="M113 340.6 L129 340.6 C131.5 340.6 133 341 134.5 342" stroke="#222" stroke-width="1.1" fill="none"/>
  <rect x="111" y="339.3" width="5" height="3.4" fill="#c9a23a"/>
  <!-- coil -->
  <path fill-rule="evenodd" fill="#141414" d="M137 310.5 C142 310 146.5 312 146.5 318 C146.5 326 144 334 142.5 341 C145 348 146.5 356 146 364 C145.5 371 142 374 138.5 374 C134 374 132 370 132 363 C132 355 133.5 348 134 342 C131 335 127 327 127 321 C127 315 131 311 137 310.5 Z M138.2 318 C139.6 317.5 141 318.5 141 321 C141 326.5 140 331 139.3 334.5 C138.5 331 137.3 326 137.3 321 C137.3 319.3 137.6 318.3 138.2 318 Z M138.4 353 C139.4 353 140 356 140 359.5 C140 363 139.4 365.5 138.7 365.5 C138 365.5 137.4 363 137.4 359.5 C137.4 356 137.7 353 138.4 353 Z"/>
  <path d="M130 319 C131.5 327 134 334 136 340 M144.3 318 C144.1 326 142.5 333 141 340 M134.3 346 C133.8 354 133.8 362 135.3 369 M144 348 C144.6 356 144.3 364 142.5 370 M132.5 316 C133 326 135.5 334 137.5 341 M145.5 322 C145 330 143.5 336 142 342" stroke="#fff" stroke-width="0.45" stroke-opacity="0.75" fill="none"/>
  <path d="M131.5 314 C133 312 136 311.5 138 312" stroke="#fff" stroke-width="0.6" fill="none" stroke-opacity="0.8"/>
  <path d="M143 371 C147 377 152 380 158 380.5" stroke="#151515" stroke-width="1" fill="none"/>
  <!-- antenna -->
  <path d="M162.4 265.5 L164 265.5 L162.7 376 L161.1 376 Z" fill="#7a7a7a"/>
  <path d="M162.95 266 L163.35 266 L162.15 375 L161.75 375 Z" fill="#d5d5d5"/>
  <rect x="162.3" y="265.3" width="1.8" height="4.5" fill="#333"/>
  <path d="M160.6 337.5 L164.6 337.5 L164.4 349 L160.4 349 Z" fill="#8a8a8a"/>
  <path d="M160.8 339.5 H164.4 M160.7 342.5 H164.3 M160.6 345.5 H164.2" stroke="#444" stroke-width="0.9"/>
  <path d="M161.4 338 L161.3 348.5" stroke="#ddd" stroke-width="0.7"/>
  <path d="M161.3 371 L163 371 L163.4 379 L160.9 379 Z" fill="#1a1a1a"/>
  <path d="M156.5 384 C156.5 380.5 159 378.3 162.2 378.3 C165.4 378.3 167.9 380.5 167.9 384 Z" fill="#141414"/>
  <!-- box -->
  <circle cx="43.6" cy="323.3" r="2.7" fill="#d9d5ca"/><circle cx="43.6" cy="323.3" r="1.6" fill="#3d3a33"/>
  <circle cx="43.4" cy="348.5" r="2.6" fill="#d9d5ca"/><circle cx="43.4" cy="348.5" r="1.4" fill="#8a857a"/>
  <circle cx="43.6" cy="374.3" r="2.6" fill="#d9d5ca"/><circle cx="43.6" cy="374.3" r="1.5" fill="#3d3a33"/>
  <circle cx="112.3" cy="324" r="2.7" fill="#d9d5ca"/><circle cx="112.3" cy="324" r="1.6" fill="#4a4438"/>
  <circle cx="112.6" cy="349" r="2.6" fill="#d9d5ca"/><circle cx="112.6" cy="349" r="1.5" fill="#8a857a"/>
  <circle cx="113" cy="374.5" r="2.6" fill="#d9d5ca"/><circle cx="113" cy="374.5" r="1.6" fill="#3d3a33"/>
  <rect x="45.5" y="315.8" width="65" height="62.5" rx="1.5" fill="url(#boxg)" stroke="#d0cdc4" stroke-width="0.8"/>
  <path d="M80 378 L110 350 M92 378 L110 361 M70 378 L110 340" stroke="#fff" stroke-width="1.2" stroke-opacity="0.3"/>
  <rect x="45.5" y="374.5" width="65" height="4.2" fill="#cfccc2"/>
  <rect x="49.2" y="324.6" width="58.6" height="15.8" fill="#1f8fe0"/>
<path transform="translate(59.6,327.7)" d="M0 0.3 H5.4 M0.3 0 V5 M2.7 1.5 V5 M1 2.6 H5 M0.6 5 H5.4" stroke="#f4fbff" stroke-width="0.9" fill="none"/>
  <path transform="translate(66.3,327.7)" d="M0.4 0 V5 M1.8 0.3 H5.2 V2.4 H1.8 Z M1.6 3.6 H5.4 M3.5 2.4 V5" stroke="#f4fbff" stroke-width="0.9" fill="none"/>
  <path transform="translate(73.0,327.7)" d="M2.7 0 V1 M0.3 1 H5.4 M0.8 1 V5 M1.8 2.6 H5 M2 4.8 H5.2 M3.5 2.6 V4.8" stroke="#f4fbff" stroke-width="0.9" fill="none"/>
  <path transform="translate(79.7,327.7)" d="M1.2 0 L0.2 2.5 M0.9 1.6 V5 M2.2 0.6 H5.4 M3.8 0 V5 M2 2.6 H5.4 M2.4 4.6 H5" stroke="#f4fbff" stroke-width="0.9" fill="none"/>
  <path transform="translate(86.4,327.7)" d="M0.3 0.4 H5.2 V2 H0.3 Z M0.6 2.8 V5 M2 3.2 L2.8 4.8 M4 3.2 L4.8 4.8 M2.7 2.4 V3.4" stroke="#f4fbff" stroke-width="0.9" fill="none"/>
  <path transform="translate(93.1,327.7)" d="M0.3 0.2 H2.3 V2 H0.3 Z M3.1 0.2 H5.2 V2 H3.1 Z M0.3 2.8 H5.2 V5 H0.3 Z M2.7 2.8 V5" stroke="#f4fbff" stroke-width="0.9" fill="none"/>
  <rect x="54.3" y="333.7" width="49" height="0.6" fill="#e8f4ff" fill-opacity="0.8"/>
  <rect x="60" y="335.4" width="38" height="1.6" fill="#bfe0fa" fill-opacity="0.75"/>
  <rect x="66.5" y="376" width="5" height="3.5" fill="#7a2a20"/>
  <!-- probe -->
  <rect x="91.3" y="377" width="11.4" height="30" rx="2" fill="#efefef" stroke="#d6d6d6" stroke-width="0.6"/>
  <rect x="95.8" y="386" width="2.2" height="19" fill="#8f877b"/>
</g>
<use href="#wifi" x="160.9" y="253.5"/>

<!-- ============ receiving module ============ -->
<g>
  <!-- adapter cable -->
  <path d="M629.5 187.7 C621 189 610 194 603 201 C598 206 596 210 596 212" stroke="#1a1a1a" stroke-width="1.1" fill="none"/>
  <path d="M596 248 C600 258 610 268 622 272.5 C630 275 640 275 653 274.5" stroke="#1a1a1a" stroke-width="1.1" fill="none"/>
  <rect x="638" y="272.3" width="16" height="4" fill="#2a2a2a"/>
  <!-- coil bundle -->
  <g fill="none" stroke="#1a1a1a" stroke-linecap="round">
    <path d="M591.5 211 C594 208.8 599.5 208.8 602.5 211.5" stroke-width="2.2"/>
    <path d="M592 212 C590 226 587 243 582.5 260" stroke-width="2.4"/>
    <path d="M594.5 211.5 C593 226 590 242 587 259" stroke-width="2.3"/>
    <path d="M597 211 C596.5 226 594 242 592 254" stroke-width="2.2"/>
    <path d="M599.5 211.5 C599.5 226 597 243 595 260" stroke-width="2.3"/>
    <path d="M602.2 212.5 C602 227 599.5 244 597 262" stroke-width="2.3"/>
    <path d="M588 250 C586.5 254 585 257 584.5 260.5" stroke-width="2"/>
    <path d="M592 252 C593 256 594.5 259 596 261" stroke-width="1.8"/>
  </g>
  <rect x="626" y="187.6" width="6" height="3" rx="1" fill="#2a2a2a"/>
  <rect x="631.8" y="171.2" width="33.5" height="23.5" rx="1.5" fill="url(#adg)"/>
  <path d="M645.8 194.5 L645.8 191 A7.6 7.6 0 0 1 661 191 L661 194.5 Z" fill="#555" stroke="#8a8a8a" stroke-width="0.9"/>
  <rect x="632.5" y="194.4" width="32.5" height="4.6" fill="#a2a2a2"/>
  <rect x="645.5" y="194.3" width="16" height="1.3" fill="#2a2a2a"/>
  <rect x="646.5" y="195.6" width="14" height="3" fill="#b8b8b8"/>
  <rect x="647" y="198.8" width="3" height="1.3" fill="#777"/><rect x="652" y="198.8" width="3" height="1.3" fill="#777"/><rect x="657" y="198.8" width="3" height="1.3" fill="#777"/>
  <!-- antenna -->
  <path d="M730.4 181 L731.6 200 L733.9 215 L734.2 283 L727.8 283 L728.2 215 L729.3 200 Z" fill="url(#antg)"/>
  <rect x="727.8" y="272" width="6.4" height="11.4" fill="#3a3a3a"/>
  <path d="M728 274.5 H734 M728 277 H734 M728 279.5 H734" stroke="#5a5a5a" stroke-width="0.6"/>
  <rect x="712" y="276.6" width="20" height="6.8" fill="#2a2a2a"/>
  <rect x="712" y="278.5" width="20" height="1.2" fill="#555"/>
  <!-- brackets -->
  <rect x="669" y="258" width="25.5" height="9" fill="#3a3a3a"/>
  <circle cx="673.2" cy="261" r="0.9" fill="#ddd"/><circle cx="690.5" cy="261" r="0.9" fill="#ddd"/>
  <ellipse cx="681.8" cy="261" rx="3" ry="1" fill="#ddd"/>
  <rect x="669" y="303" width="25.5" height="5.8" fill="#3a3a3a"/>
  <circle cx="673.2" cy="306" r="0.9" fill="#ddd"/><circle cx="690.5" cy="306" r="0.9" fill="#ddd"/>
  <!-- body -->
  <rect x="653" y="265.3" width="59.2" height="39.8" rx="1" fill="#333"/>
  <path d="M655 267 L710.5 267 L710.5 287.5 L671 287.5 L668 283 L655 283 Z" fill="#f1913a"/>
  <path d="M655 283 L668 283 L671 287.5 L710.5 287.5 L710.5 303.3 L655 303.3 Z" fill="#2f7fd6"/>
  <circle cx="673.5" cy="273.8" r="1.8" fill="#fff" stroke="#7a3c10" stroke-width="0.6"/>
  <rect x="677" y="272.8" width="18" height="2" fill="#ffe8cf" fill-opacity="0.8"/>
  <rect x="664" y="279.3" width="40" height="1.4" fill="#ffd9b0" fill-opacity="0.8"/>
  <rect x="675" y="283" width="18" height="1.3" fill="#ffd9b0" fill-opacity="0.7"/>
  <rect x="685" y="292" width="1" height="7" fill="#a9d0f5"/><rect x="688" y="292" width="1" height="7" fill="#a9d0f5"/><rect x="691" y="292" width="1" height="7" fill="#a9d0f5"/>
  <rect x="657.5" y="287" width="1.2" height="13" fill="#a9d0f5" fill-opacity="0.7"/>
  <rect x="705.5" y="292" width="1.2" height="9" fill="#a9d0f5" fill-opacity="0.7"/>
  <rect x="651" y="287" width="3" height="12" fill="#2a5fa0"/>
  <!-- green terminal -->
  <rect x="712.4" y="288" width="6" height="12.6" fill="#5cb66a"/>
  <rect x="713.5" y="290" width="3.6" height="2.2" fill="#3e8a4c"/>
  <rect x="713.5" y="295" width="3.6" height="2.2" fill="#3e8a4c"/>
</g>
<use href="#wifi" x="730.1" y="171.8"/>

<!-- ============ laptop ============ -->
<polygon points="698.7,486.0 698.7,490.0 767.5,531.6 811.6,508.5 811.6,504.5 768.4,528.8" fill="#151515" stroke="#151515" stroke-width="1" stroke-linejoin="round"/>
<polygon points="737.7,464.4 811.8,505.0 768.4,529.1 698.7,486.6" fill="#616161" stroke="#6a6a6a" stroke-width="2" stroke-linejoin="round"/>
<polygon points="741.5,412.5 743.5,409.5 813.5,450.5 816.5,455.0 816.5,501.5 741.0,465.0" fill="#3d3d3d" stroke="#3d3d3d" stroke-width="1" stroke-linejoin="round"/>
<polygon points="745.7,416.0 811.8,454.5 812.7,496.4 746.0,463.4" fill="url(#scrg)"/>
<polygon points="749.3,421.4 773.4,433.9 772.9,442.9 748.9,430.0" fill="#eef3ef" stroke="#eef3ef" stroke-width="1.2" stroke-linejoin="round"/>
<polygon points="748.9,434.8 758.2,439.6 758.2,450.0 748.9,445.5" fill="#eef3ef" stroke="#eef3ef" stroke-width="1.2" stroke-linejoin="round"/>
<polygon points="760.9,441.4 772.9,447.9 772.9,458.9 760.9,452.7" fill="#eef3ef" stroke="#eef3ef" stroke-width="1.2" stroke-linejoin="round"/>
<polygon points="776.1,437.9 804.6,453.6 804.6,476.8 776.1,460.7" fill="#eef3ef" stroke="#eef3ef" stroke-width="1.2" stroke-linejoin="round"/>
<path d="M752.5 453.0 L750.0 458.0 L752.5 463.5" stroke="#e8f2f4" stroke-width="1" fill="none"/>
<path d="M756.1 455.1 L753.6 460.1 L756.1 465.6" stroke="#e8f2f4" stroke-width="1" fill="none"/>
<path d="M759.7 457.2 L757.2 462.2 L759.7 467.7" stroke="#e8f2f4" stroke-width="1" fill="none"/>
<path d="M763.3 459.3 L760.8 464.3 L763.3 469.8" stroke="#e8f2f4" stroke-width="1" fill="none"/>
<path d="M766.9 461.4 L764.4 466.4 L766.9 471.9" stroke="#e8f2f4" stroke-width="1" fill="none"/>
<polygon points="771.0,463.5 778.5,467.8 778.5,475.5 771.0,471.2" fill="none" stroke="#e8f2f4" stroke-width="1"/>
<polygon points="771.0,466.0 778.5,470.3" fill="none" stroke="#e8f2f4" stroke-width="0.8"/>
<path d="M783 470.0 L783 480.0" stroke="#7fb2dc" stroke-width="0.8"/>
<path d="M786 471.7 L786 481.7" stroke="#7fb2dc" stroke-width="0.8"/>
<path d="M789 473.4 L789 483.4" stroke="#7fb2dc" stroke-width="0.8"/>
<path d="M792 475.1 L792 485.1" stroke="#7fb2dc" stroke-width="0.8"/>
<polygon points="782.0,468.0 804.0,481.0 804.0,490.0 782.0,477.0" fill="#3d8fd4" fill-opacity="0.5"/>
<circle cx="779.5" cy="446" r="2.3" fill="none" stroke="#d9d5a8" stroke-width="0.8"/>
<circle cx="779.5" cy="453" r="2.3" fill="none" stroke="#d9d5a8" stroke-width="0.8"/>
<path d="M786 449 L792 455 L797 461 L801 468" stroke="#cfd9cf" stroke-width="0.8" fill="none"/>
<path d="M784 462 L800 471" stroke="#a8c8b8" stroke-width="0.8" fill="none"/>
<path d="M743 466.5 L808 501.5" stroke="#2e2e2e" stroke-width="2.2" stroke-linecap="round"/>
<polygon points="726.1,496.9 737.7,491.1 761.5,504.9 750.7,511.4" fill="#262626" stroke="#262626" stroke-width="1" stroke-linejoin="round"/>
<g transform="matrix(0.865,0.502,-0.82,0.57,747.5,481.4)"><rect x="-3.30" y="-2.80" width="6.6" height="5.6" rx="1.2" fill="#262626"/><circle cx="0" cy="0" r="2" fill="#3fa7a3" fill-opacity="0.45"/><circle cx="0" cy="0" r="1.25" fill="#6fe3d8"/></g>
<g transform="matrix(0.865,0.502,-0.82,0.57,755.0,485.8)"><rect x="-3.30" y="-2.80" width="6.6" height="5.6" rx="1.2" fill="#262626"/><circle cx="0" cy="0" r="2" fill="#3fa7a3" fill-opacity="0.45"/><circle cx="0" cy="0" r="1.25" fill="#6fe3d8"/></g>
<g transform="matrix(0.865,0.502,-0.82,0.57,762.6,490.2)"><rect x="-3.30" y="-2.80" width="6.6" height="5.6" rx="1.2" fill="#262626"/><circle cx="0" cy="0" r="2" fill="#3fa7a3" fill-opacity="0.45"/><circle cx="0" cy="0" r="1.25" fill="#6fe3d8"/></g>
<g transform="matrix(0.865,0.502,-0.82,0.57,770.1,494.5)"><rect x="-3.30" y="-2.80" width="6.6" height="5.6" rx="1.2" fill="#262626"/><circle cx="0" cy="0" r="2" fill="#3fa7a3" fill-opacity="0.45"/><circle cx="0" cy="0" r="1.25" fill="#6fe3d8"/></g>
<g transform="matrix(0.865,0.502,-0.82,0.57,777.7,498.9)"><rect x="-3.30" y="-2.80" width="6.6" height="5.6" rx="1.2" fill="#262626"/><circle cx="0" cy="0" r="2" fill="#3fa7a3" fill-opacity="0.45"/><circle cx="0" cy="0" r="1.25" fill="#6fe3d8"/></g>
<g transform="matrix(0.865,0.502,-0.82,0.57,785.2,503.3)"><rect x="-3.30" y="-2.80" width="6.6" height="5.6" rx="1.2" fill="#262626"/><circle cx="0" cy="0" r="2" fill="#3fa7a3" fill-opacity="0.45"/><circle cx="0" cy="0" r="1.25" fill="#6fe3d8"/></g>
<g transform="matrix(0.865,0.502,-0.82,0.57,792.8,507.7)"><rect x="-3.30" y="-2.80" width="6.6" height="5.6" rx="1.2" fill="#262626"/><circle cx="0" cy="0" r="2" fill="#3fa7a3" fill-opacity="0.45"/><circle cx="0" cy="0" r="1.25" fill="#6fe3d8"/></g>
<g transform="matrix(0.865,0.502,-0.82,0.57,740.6,486.2)"><rect x="-3.30" y="-2.80" width="6.6" height="5.6" rx="1.2" fill="#262626"/><circle cx="0" cy="0" r="2" fill="#3fa7a3" fill-opacity="0.45"/><circle cx="0" cy="0" r="1.25" fill="#6fe3d8"/></g>
<g transform="matrix(0.865,0.502,-0.82,0.57,748.2,490.5)"><rect x="-3.30" y="-2.80" width="6.6" height="5.6" rx="1.2" fill="#262626"/><circle cx="0" cy="0" r="2" fill="#3fa7a3" fill-opacity="0.45"/><circle cx="0" cy="0" r="1.25" fill="#6fe3d8"/></g>
<g transform="matrix(0.865,0.502,-0.82,0.57,755.8,494.8)"><rect x="-3.30" y="-2.80" width="6.6" height="5.6" rx="1.2" fill="#262626"/><circle cx="0" cy="0" r="2" fill="#3fa7a3" fill-opacity="0.45"/><circle cx="0" cy="0" r="1.25" fill="#6fe3d8"/></g>
<g transform="matrix(0.865,0.502,-0.82,0.57,763.4,499.1)"><rect x="-3.30" y="-2.80" width="6.6" height="5.6" rx="1.2" fill="#262626"/><circle cx="0" cy="0" r="2" fill="#3fa7a3" fill-opacity="0.45"/><circle cx="0" cy="0" r="1.25" fill="#6fe3d8"/></g>
<g transform="matrix(0.865,0.502,-0.82,0.57,771.0,503.4)"><rect x="-3.30" y="-2.80" width="6.6" height="5.6" rx="1.2" fill="#262626"/><circle cx="0" cy="0" r="2" fill="#3fa7a3" fill-opacity="0.45"/><circle cx="0" cy="0" r="1.25" fill="#6fe3d8"/></g>
<g transform="matrix(0.865,0.502,-0.82,0.57,730.0,479.6)"><rect x="-6.00" y="-2.10" width="12" height="4.2" rx="1.2" fill="#262626"/></g>
<g transform="matrix(0.865,0.502,-0.82,0.57,735.5,474.8)"><rect x="-6.00" y="-2.10" width="12" height="4.2" rx="1.2" fill="#262626"/></g>
<g transform="matrix(0.865,0.502,-0.82,0.57,740.6,469.7)"><rect x="-4.00" y="-2.10" width="8" height="4.2" rx="1.2" fill="#262626"/></g>
<g transform="matrix(0.865,0.502,-0.82,0.57,750.7,475.2)"><rect x="-2.50" y="-2.10" width="5" height="4.2" rx="1.2" fill="#262626"/></g>
<g transform="matrix(0.865,0.502,-0.82,0.57,757.9,479.6)"><rect x="-2.50" y="-2.10" width="5" height="4.2" rx="1.2" fill="#262626"/></g>
<g transform="matrix(0.865,0.502,-0.82,0.57,765.1,483.9)"><rect x="-2.50" y="-2.10" width="5" height="4.2" rx="1.2" fill="#262626"/></g>
<g transform="matrix(0.865,0.502,-0.82,0.57,773.1,489.0)"><rect x="-2.50" y="-2.10" width="5" height="4.2" rx="1.2" fill="#262626"/></g>
<g transform="matrix(0.865,0.502,-0.82,0.57,780.3,492.9)"><rect x="-2.50" y="-2.10" width="5" height="4.2" rx="1.2" fill="#262626"/></g>
<g transform="matrix(0.865,0.502,-0.82,0.57,787.5,496.9)"><rect x="-2.50" y="-2.10" width="5" height="4.2" rx="1.2" fill="#262626"/></g>
<g transform="matrix(0.865,0.502,-0.82,0.57,797.0,502.7)"><rect x="-4.50" y="-2.10" width="9" height="4.2" rx="1.2" fill="#262626"/></g>
<g transform="matrix(0.865,0.502,-0.82,0.57,782.5,509.9)"><rect x="-6.00" y="-2.10" width="12" height="4.2" rx="1.2" fill="#262626"/></g>

<!-- labels -->
<text x="597.5" y="331" font-size="19" fill="#111" stroke="#111" stroke-width="0.45" letter-spacing="-1" word-spacing="1.5" textLength="167" lengthAdjust="spacingAndGlyphs">RECEIVING MODULE</text>
<text x="675.6" y="558.1" font-size="19" fill="#111" stroke="#111" stroke-width="0.45" letter-spacing="-1" word-spacing="1.5" textLength="164.5" lengthAdjust="spacingAndGlyphs">LINK TO COMPUTER</text>

<!-- paragraph -->
<g font-size="20.4" fill="#111" stroke="#fff" stroke-width="0.3" letter-spacing="-1.3" word-spacing="2">
<text x="173.8" y="434.8" textLength="483.5" lengthAdjust="spacingAndGlyphs">IF BEYOND THE MODULE PENETRATION RANGE, JUST ADD A RE</text>
<text x="173.8" y="470.5" textLength="490" lengthAdjust="spacingAndGlyphs">LAY MODULE TO ACHIEVE YOUR LONG-DISTANCE TRANSMISSIO</text>
<text x="173.8" y="507" textLength="487" lengthAdjust="spacingAndGlyphs">N TARGET, FIELD IMPLEMENTATION IS CONVENIENT, TERMINAL A</text>
<text x="173.8" y="542.5" textLength="293" lengthAdjust="spacingAndGlyphs">DDRESS CAN BE CONFIGURED FREELY</text>
</g>

</svg>
</body></html>
